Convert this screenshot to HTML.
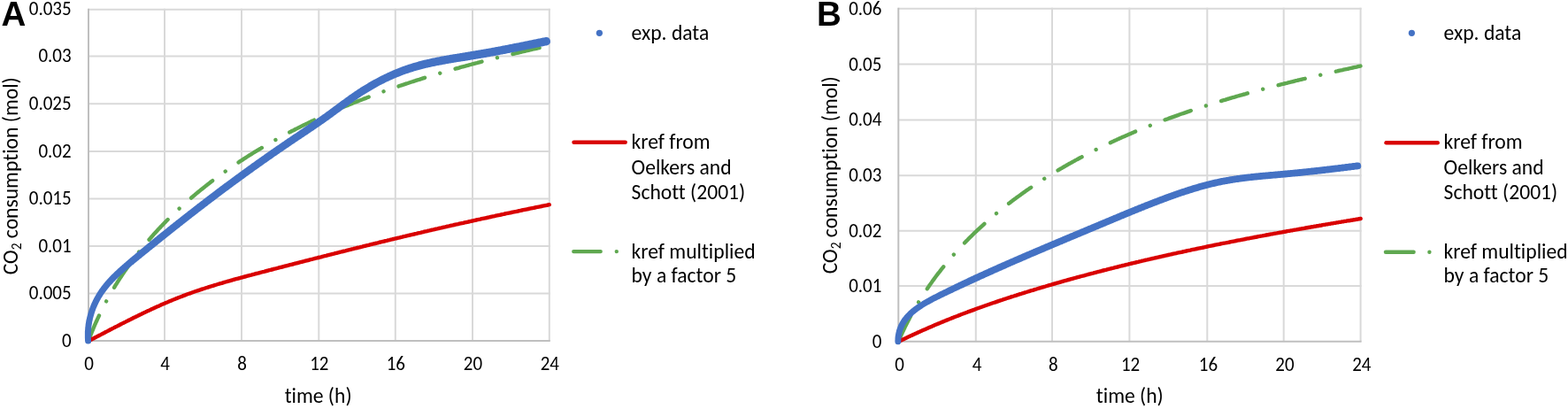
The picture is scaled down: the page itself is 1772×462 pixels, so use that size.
<!DOCTYPE html>
<html><head><meta charset="utf-8"><title>CO2 consumption charts</title>
<style>
html,body{margin:0;padding:0;background:#fff;}
body{width:1772px;height:462px;overflow:hidden;}
svg{display:block;}
text{font-variant-ligatures:none;font-feature-settings:'liga' 0,'clig' 0;}
</style></head>
<body>
<svg width="1772" height="462" viewBox="0 0 1772 462">
<rect width="1772" height="462" fill="#fff"></rect>
<g stroke="#d9d9d9" stroke-width="2" fill="none">
<line x1="186.0" y1="9.8" x2="186.0" y2="385.0"></line>
<line x1="273.0" y1="9.8" x2="273.0" y2="385.0"></line>
<line x1="360.3" y1="9.8" x2="360.3" y2="385.0"></line>
<line x1="446.8" y1="9.8" x2="446.8" y2="385.0"></line>
<line x1="534.0" y1="9.8" x2="534.0" y2="385.0"></line>
<line x1="620.8" y1="9.8" x2="620.8" y2="385.0"></line>
<line x1="100.0" y1="331.4" x2="621.8" y2="331.4"></line>
<line x1="100.0" y1="277.9" x2="621.8" y2="277.9"></line>
<line x1="100.0" y1="224.4" x2="621.8" y2="224.4"></line>
<line x1="100.0" y1="170.9" x2="621.8" y2="170.9"></line>
<line x1="100.0" y1="117.3" x2="621.8" y2="117.3"></line>
<line x1="100.0" y1="63.6" x2="621.8" y2="63.6"></line>
<line x1="100.0" y1="10.8" x2="621.8" y2="10.8"></line>
<line x1="1102.8" y1="8.8" x2="1102.8" y2="385.8"></line>
<line x1="1189.0" y1="8.8" x2="1189.0" y2="385.8"></line>
<line x1="1276.4" y1="8.8" x2="1276.4" y2="385.8"></line>
<line x1="1364.3" y1="8.8" x2="1364.3" y2="385.8"></line>
<line x1="1450.7" y1="8.8" x2="1450.7" y2="385.8"></line>
<line x1="1537.6" y1="8.8" x2="1537.6" y2="385.8"></line>
<line x1="1015.3" y1="322.9" x2="1538.6" y2="322.9"></line>
<line x1="1015.3" y1="260.8" x2="1538.6" y2="260.8"></line>
<line x1="1015.3" y1="198.2" x2="1538.6" y2="198.2"></line>
<line x1="1015.3" y1="135.4" x2="1538.6" y2="135.4"></line>
<line x1="1015.3" y1="72.5" x2="1538.6" y2="72.5"></line>
<line x1="1015.3" y1="9.8" x2="1538.6" y2="9.8"></line>
</g>
<g stroke="#bfbfbf" stroke-width="2" fill="none">
<line x1="100.0" y1="9.8" x2="100.0" y2="386.0"></line>
<line x1="99.0" y1="385.0" x2="621.8" y2="385.0"></line>
<line x1="1015.3" y1="8.8" x2="1015.3" y2="386.8"></line>
<line x1="1014.3" y1="385.8" x2="1538.6" y2="385.8"></line>
</g>
<g fill="none" stroke-linecap="round" stroke-linejoin="round">
<path d="M100.0 385.0 L100.5 383.6 L101.1 382.2 L101.6 380.7 L102.1 379.3 L102.7 377.9 L103.3 376.5 L103.8 375.1 L104.4 373.7 L105.0 372.3 L105.5 370.9 L106.1 369.5 L106.7 368.1 L107.3 366.7 L107.9 365.3 L108.5 363.9 L109.2 362.6 L109.8 361.2 L110.4 359.8 L111.1 358.5 L111.7 357.1 L112.3 355.7 L113.0 354.4 L113.7 353.0 L114.3 351.7 L115.0 350.3 L115.7 349.0 L116.3 347.6 L117.0 346.3 L117.7 344.9 L118.4 343.6 L119.1 342.3 L119.8 341.0 L120.5 339.6 L121.3 338.3 L122.0 337.0 L122.7 335.7 L123.5 334.4 L124.2 333.1 L124.9 331.8 L125.7 330.4 L126.4 329.2 L127.2 327.9 L128.0 326.6 L128.8 325.3 L129.5 324.0 L130.3 322.7 L131.1 321.4 L131.9 320.2 L132.7 318.9 L133.5 317.6 L134.3 316.4 L135.1 315.1 L135.9 313.8 L136.8 312.6 L137.6 311.3 L138.4 310.1 L139.3 308.8 L140.1 307.6 L140.9 306.3 L141.8 305.1 L142.7 303.9 L143.5 302.7 L144.4 301.4 L145.3 300.2 L146.1 299.0 L147.0 297.8 L147.9 296.6 L148.8 295.4 L149.7 294.1 L150.6 292.9 L151.5 291.7 L152.4 290.6 L153.3 289.4 L154.2 288.2 L155.1 287.0 L156.1 285.8 L157.0 284.6 L157.9 283.5 L158.9 282.3 L159.8 281.1 L160.8 280.0 L161.7 278.8 L162.7 277.6 L163.6 276.5 L164.6 275.3 L165.6 274.2 L166.5 273.0 L167.5 271.9 L168.5 270.8 L169.5 269.6 L170.5 268.5 L171.4 267.4 L172.4 266.3 L173.4 265.1 L174.4 264.0 L175.5 262.9 L176.5 261.8 L177.5 260.7 L178.5 259.6 L179.5 258.5 L180.6 257.4 L181.6 256.3 L182.6 255.2 L183.7 254.1 L184.7 253.1 L185.7 252.0 L186.8 250.9 L187.9 249.8 L188.9 248.8 L190.0 247.7 L191.0 246.7 L192.1 245.6 L193.2 244.6 L194.2 243.5 L195.3 242.5 L196.4 241.4 L197.5 240.4 L198.6 239.3 L199.7 238.3 L200.8 237.3 L201.9 236.3 L203.0 235.2 L204.1 234.2 L205.2 233.2 L206.3 232.2 L207.4 231.2 L208.5 230.2 L209.6 229.2 L210.8 228.2 L211.9 227.2 L213.0 226.2 L214.2 225.2 L215.3 224.3 L216.4 223.3 L217.6 222.3 L218.7 221.3 L219.9 220.4 L221.0 219.4 L222.2 218.4 L223.3 217.5 L224.5 216.5 L225.6 215.6 L226.8 214.6 L228.0 213.7 L229.2 212.8 L230.3 211.8 L231.5 210.9 L232.7 209.9 L233.9 209.0 L235.1 208.1 L236.2 207.2 L237.4 206.3 L238.6 205.3 L239.8 204.4 L241.0 203.5 L242.2 202.6 L243.4 201.7 L244.6 200.8 L245.8 199.9 L247.1 199.0 L248.3 198.2 L249.5 197.3 L250.7 196.4 L251.9 195.5 L253.2 194.6 L254.4 193.8 L255.6 192.9 L256.8 192.0 L258.1 191.2 L259.3 190.3 L260.6 189.5 L261.8 188.6 L263.0 187.8 L264.3 186.9 L265.5 186.1 L266.8 185.2 L268.0 184.4 L269.3 183.6 L270.5 182.7 L271.8 181.9 L273.1 181.1 L274.3 180.3 L275.6 179.4 L276.9 178.6 L278.1 177.8 L279.4 177.0 L280.7 176.2 L281.9 175.4 L283.2 174.6 L284.5 173.8 L285.8 173.0 L287.1 172.2 L288.3 171.4 L289.6 170.7 L290.9 169.9 L292.2 169.1 L293.5 168.3 L294.8 167.6 L296.1 166.8 L297.4 166.0 L298.7 165.3 L300.0 164.5 L301.3 163.7 L302.6 163.0 L303.9 162.2 L305.2 161.5 L306.5 160.7 L307.8 160.0 L309.1 159.3 L310.4 158.5 L311.8 157.8 L313.1 157.1 L314.4 156.3 L315.7 155.6 L317.0 154.9 L318.4 154.2 L319.7 153.5 L321.0 152.8 L322.3 152.0 L323.7 151.3 L325.0 150.6 L326.3 149.9 L327.6 149.2 L329.0 148.5 L330.3 147.8 L331.7 147.2 L333.0 146.5 L334.3 145.8 L335.7 145.1 L337.0 144.4 L338.4 143.8 L339.7 143.1 L341.0 142.4 L342.4 141.7 L343.7 141.1 L345.1 140.4 L346.4 139.8 L347.8 139.1 L349.1 138.4 L350.5 137.8 L351.9 137.1 L353.2 136.5 L354.6 135.9 L355.9 135.2 L357.3 134.6 L358.7 133.9 L360.0 133.3 L361.4 132.7 L362.8 132.1 L364.1 131.4 L365.5 130.8 L366.9 130.2 L368.2 129.6 L369.6 129.0 L371.0 128.3 L372.3 127.7 L373.7 127.1 L375.1 126.5 L376.5 125.9 L377.9 125.3 L379.2 124.7 L380.6 124.1 L382.0 123.5 L383.4 122.9 L384.8 122.4 L386.1 121.8 L387.5 121.2 L388.9 120.6 L390.3 120.0 L391.7 119.5 L393.1 118.9 L394.5 118.3 L395.9 117.7 L397.3 117.2 L398.7 116.6 L400.1 116.0 L401.5 115.5 L402.9 114.9 L404.3 114.4 L405.7 113.8 L407.1 113.3 L408.5 112.7 L409.9 112.2 L411.3 111.6 L412.7 111.1 L414.1 110.6 L415.5 110.0 L416.9 109.5 L418.3 109.0 L419.7 108.4 L421.1 107.9 L422.5 107.4 L423.9 106.8 L425.3 106.3 L426.8 105.8 L428.2 105.3 L429.6 104.8 L431.0 104.3 L432.4 103.7 L433.8 103.2 L435.3 102.7 L436.7 102.2 L438.1 101.7 L439.5 101.2 L440.9 100.7 L442.4 100.2 L443.8 99.7 L445.2 99.2 L446.6 98.7 L448.1 98.3 L449.5 97.8 L450.9 97.3 L452.3 96.8 L453.8 96.3 L455.2 95.8 L456.6 95.4 L458.1 94.9 L459.5 94.4 L460.9 94.0 L462.3 93.5 L463.8 93.0 L465.2 92.5 L466.6 92.1 L468.1 91.6 L469.5 91.2 L471.0 90.7 L472.4 90.2 L473.8 89.8 L475.3 89.3 L476.7 88.9 L478.1 88.4 L479.6 88.0 L481.0 87.5 L482.5 87.1 L483.9 86.7 L485.4 86.2 L486.8 85.8 L488.2 85.3 L489.7 84.9 L491.1 84.5 L492.6 84.0 L494.0 83.6 L495.5 83.2 L496.9 82.8 L498.4 82.3 L499.8 81.9 L501.2 81.5 L502.7 81.1 L504.1 80.7 L505.6 80.2 L507.0 79.8 L508.5 79.4 L509.9 79.0 L511.4 78.6 L512.8 78.2 L514.3 77.8 L515.7 77.4 L517.2 77.0 L518.7 76.6 L520.1 76.1 L521.6 75.7 L523.0 75.3 L524.5 75.0 L525.9 74.6 L527.4 74.2 L528.8 73.8 L530.3 73.4 L531.7 73.0 L533.2 72.6 L534.7 72.2 L536.1 71.8 L537.6 71.4 L539.0 71.1 L540.5 70.7 L541.9 70.3 L543.4 69.9 L544.9 69.5 L546.3 69.2 L547.8 68.8 L549.2 68.4 L550.7 68.0 L552.1 67.7 L553.6 67.3 L555.1 66.9 L556.5 66.6 L558.0 66.2 L559.4 65.8 L560.9 65.5 L562.4 65.1 L563.8 64.7 L565.3 64.4 L566.7 64.0 L568.2 63.7 L569.7 63.3 L571.1 63.0 L572.6 62.6 L574.0 62.3 L575.5 61.9 L577.0 61.5 L578.4 61.2 L579.9 60.9 L581.4 60.5 L582.8 60.2 L584.3 59.8 L585.7 59.5 L587.2 59.1 L588.7 58.8 L590.1 58.4 L591.6 58.1 L593.0 57.8 L594.5 57.4 L596.0 57.1 L597.4 56.8 L598.9 56.4 L600.4 56.1 L601.8 55.7 L603.3 55.4 L604.7 55.1 L606.2 54.8 L607.7 54.4 L609.1 54.1 L610.6 53.8 L612.0 53.4 L613.5 53.1 L615.0 52.8 L616.4 52.5 L617.9 52.1 L619.3 51.8 L620.8 51.5" stroke="#5fa850" stroke-width="4.4" stroke-dasharray="31 18 0.01 18"></path>
<path d="M100.5 385.0 L101.8 384.3 L103.2 383.6 L104.5 382.9 L105.8 382.2 L107.1 381.5 L108.5 380.8 L109.8 380.1 L111.1 379.5 L112.4 378.8 L113.8 378.1 L115.1 377.4 L116.4 376.7 L117.8 376.0 L119.1 375.3 L120.4 374.6 L121.8 373.9 L123.1 373.2 L124.4 372.5 L125.8 371.8 L127.1 371.1 L128.5 370.4 L129.8 369.7 L131.1 369.1 L132.5 368.4 L133.8 367.7 L135.2 367.0 L136.5 366.3 L137.8 365.6 L139.2 364.9 L140.5 364.3 L141.9 363.6 L143.2 362.9 L144.6 362.2 L145.9 361.5 L147.3 360.9 L148.6 360.2 L150.0 359.5 L151.3 358.8 L152.7 358.2 L154.0 357.5 L155.4 356.9 L156.7 356.2 L158.1 355.5 L159.5 354.9 L160.8 354.2 L162.2 353.6 L163.5 352.9 L164.9 352.3 L166.3 351.6 L167.6 351.0 L169.0 350.4 L170.4 349.7 L171.7 349.1 L173.1 348.5 L174.5 347.8 L175.8 347.2 L177.2 346.6 L178.6 346.0 L180.0 345.4 L181.4 344.7 L182.7 344.1 L184.1 343.5 L185.5 342.9 L186.9 342.3 L188.3 341.7 L189.6 341.2 L191.0 340.6 L192.4 340.0 L193.8 339.4 L195.2 338.8 L196.6 338.3 L198.0 337.7 L199.4 337.1 L200.8 336.6 L202.2 336.0 L203.6 335.5 L205.0 335.0 L206.4 334.4 L207.8 333.9 L209.2 333.4 L210.6 332.8 L212.0 332.3 L213.4 331.8 L214.9 331.3 L216.3 330.8 L217.7 330.3 L219.1 329.8 L220.5 329.3 L221.9 328.8 L223.4 328.3 L224.8 327.8 L226.2 327.4 L227.6 326.9 L229.1 326.4 L230.5 326.0 L231.9 325.5 L233.4 325.0 L234.8 324.6 L236.2 324.1 L237.7 323.7 L239.1 323.2 L240.5 322.8 L242.0 322.3 L243.4 321.9 L244.8 321.5 L246.3 321.0 L247.7 320.6 L249.2 320.2 L250.6 319.8 L252.1 319.3 L253.5 318.9 L254.9 318.5 L256.4 318.1 L257.8 317.7 L259.3 317.3 L260.7 316.9 L262.2 316.5 L263.6 316.0 L265.1 315.6 L266.5 315.2 L268.0 314.8 L269.4 314.5 L270.9 314.1 L272.3 313.7 L273.8 313.3 L275.2 312.9 L276.7 312.5 L278.2 312.1 L279.6 311.7 L281.1 311.3 L282.5 310.9 L284.0 310.6 L285.4 310.2 L286.9 309.8 L288.3 309.4 L289.8 309.0 L291.3 308.7 L292.7 308.3 L294.2 307.9 L295.6 307.5 L297.1 307.1 L298.5 306.8 L300.0 306.4 L301.5 306.0 L302.9 305.6 L304.4 305.2 L305.8 304.9 L307.3 304.5 L308.7 304.1 L310.2 303.7 L311.7 303.4 L313.1 303.0 L314.6 302.6 L316.0 302.2 L317.5 301.8 L318.9 301.5 L320.4 301.1 L321.9 300.7 L323.3 300.3 L324.8 300.0 L326.2 299.6 L327.7 299.2 L329.2 298.8 L330.6 298.5 L332.1 298.1 L333.5 297.7 L335.0 297.3 L336.4 297.0 L337.9 296.6 L339.4 296.2 L340.8 295.8 L342.3 295.5 L343.7 295.1 L345.2 294.7 L346.6 294.3 L348.1 294.0 L349.6 293.6 L351.0 293.2 L352.5 292.9 L353.9 292.5 L355.4 292.1 L356.9 291.7 L358.3 291.4 L359.8 291.0 L361.2 290.6 L362.7 290.3 L364.2 289.9 L365.6 289.5 L367.1 289.1 L368.5 288.8 L370.0 288.4 L371.4 288.0 L372.9 287.7 L374.4 287.3 L375.8 286.9 L377.3 286.6 L378.7 286.2 L380.2 285.8 L381.7 285.5 L383.1 285.1 L384.6 284.7 L386.0 284.4 L387.5 284.0 L389.0 283.6 L390.4 283.3 L391.9 282.9 L393.3 282.5 L394.8 282.2 L396.3 281.8 L397.7 281.4 L399.2 281.1 L400.6 280.7 L402.1 280.4 L403.6 280.0 L405.0 279.6 L406.5 279.3 L407.9 278.9 L409.4 278.6 L410.9 278.2 L412.3 277.8 L413.8 277.5 L415.2 277.1 L416.7 276.8 L418.2 276.4 L419.6 276.0 L421.1 275.7 L422.5 275.3 L424.0 275.0 L425.5 274.6 L426.9 274.3 L428.4 273.9 L429.9 273.5 L431.3 273.2 L432.8 272.8 L434.2 272.5 L435.7 272.1 L437.2 271.8 L438.6 271.4 L440.1 271.1 L441.6 270.7 L443.0 270.4 L444.5 270.0 L445.9 269.7 L447.4 269.3 L448.9 269.0 L450.3 268.6 L451.8 268.3 L453.3 267.9 L454.7 267.6 L456.2 267.2 L457.7 266.9 L459.1 266.5 L460.6 266.2 L462.0 265.8 L463.5 265.5 L465.0 265.2 L466.4 264.8 L467.9 264.5 L469.4 264.1 L470.8 263.8 L472.3 263.4 L473.8 263.1 L475.2 262.8 L476.7 262.4 L478.2 262.1 L479.6 261.7 L481.1 261.4 L482.6 261.1 L484.0 260.7 L485.5 260.4 L486.9 260.0 L488.4 259.7 L489.9 259.4 L491.3 259.0 L492.8 258.7 L494.3 258.4 L495.7 258.0 L497.2 257.7 L498.7 257.4 L500.1 257.0 L501.6 256.7 L503.1 256.4 L504.5 256.0 L506.0 255.7 L507.5 255.4 L508.9 255.0 L510.4 254.7 L511.9 254.4 L513.4 254.0 L514.8 253.7 L516.3 253.4 L517.8 253.1 L519.2 252.7 L520.7 252.4 L522.2 252.1 L523.6 251.8 L525.1 251.4 L526.6 251.1 L528.0 250.8 L529.5 250.5 L531.0 250.1 L532.4 249.8 L533.9 249.5 L535.4 249.2 L536.9 248.8 L538.3 248.5 L539.8 248.2 L541.3 247.9 L542.7 247.6 L544.2 247.2 L545.7 246.9 L547.1 246.6 L548.6 246.3 L550.1 246.0 L551.6 245.6 L553.0 245.3 L554.5 245.0 L556.0 244.7 L557.4 244.4 L558.9 244.1 L560.4 243.7 L561.9 243.4 L563.3 243.1 L564.8 242.8 L566.3 242.5 L567.7 242.2 L569.2 241.9 L570.7 241.5 L572.2 241.2 L573.6 240.9 L575.1 240.6 L576.6 240.3 L578.0 240.0 L579.5 239.7 L581.0 239.4 L582.5 239.1 L583.9 238.8 L585.4 238.5 L586.9 238.1 L588.4 237.8 L589.8 237.5 L591.3 237.2 L592.8 236.9 L594.3 236.6 L595.7 236.3 L597.2 236.0 L598.7 235.7 L600.1 235.4 L601.6 235.1 L603.1 234.8 L604.6 234.5 L606.0 234.2 L607.5 233.9 L609.0 233.6 L610.5 233.3 L611.9 233.0 L613.4 232.7 L614.9 232.4 L616.4 232.1 L617.8 231.8 L619.3 231.5 L620.8 231.2" stroke="#d90000" stroke-width="4.4"></path>
<path d="M103.1 384.8 L103.0 383.7 L103.0 382.7 L102.9 381.8 L102.9 380.8 L102.9 379.8 L102.9 378.8 L102.9 377.8 L102.9 376.8 L102.9 375.8 L102.9 374.9 L103.0 373.9 L103.1 372.9 L103.1 372.0 L103.2 371.0 L103.3 370.0 L103.4 369.1 L103.5 368.1 L103.7 367.1 L103.8 366.2 L104.0 365.2 L104.1 364.3 L104.3 363.3 L104.5 362.4 L104.7 361.4 L104.9 360.5 L105.1 359.6 L105.4 358.6 L105.6 357.7 L105.9 356.8 L106.1 355.9 L106.4 354.9 L106.7 354.0 L107.0 353.1 L107.3 352.2 L107.6 351.3 L107.9 350.4 L108.2 349.5 L108.6 348.6 L108.9 347.8 L109.3 346.9 L109.7 346.0 L110.1 345.1 L110.5 344.3 L110.9 343.4 L111.3 342.6 L111.7 341.7 L112.1 340.9 L112.6 340.1 L113.0 339.2 L113.5 338.4 L113.9 337.6 L114.4 336.8 L114.9 336.0 L115.4 335.2 L115.9 334.4 L116.4 333.6 L116.9 332.8 L117.5 332.0 L118.0 331.2 L118.6 330.5 L119.1 329.7 L119.7 328.9 L120.2 328.2 L120.8 327.4 L121.4 326.7 L122.0 326.0 L122.6 325.2 L123.2 324.5 L123.8 323.8 L124.4 323.0 L125.1 322.3 L125.7 321.6 L126.4 320.9 L127.0 320.2 L127.7 319.5 L128.3 318.8 L129.0 318.1 L129.7 317.4 L130.3 316.7 L131.0 316.0 L131.7 315.3 L132.4 314.7 L133.1 314.0 L133.8 313.3 L134.5 312.6 L135.2 312.0 L136.0 311.3 L136.7 310.6 L137.4 310.0 L138.1 309.3 L138.9 308.7 L139.6 308.0 L140.4 307.4 L141.1 306.7 L141.9 306.1 L142.6 305.4 L143.4 304.8 L144.1 304.1 L144.9 303.5 L145.7 302.8 L146.4 302.2 L147.2 301.6 L148.0 300.9 L148.7 300.3 L149.5 299.6 L150.3 299.0 L151.1 298.4 L151.8 297.7 L152.6 297.1 L153.4 296.4 L154.2 295.8 L155.0 295.2 L155.7 294.5 L156.5 293.9 L157.3 293.3 L158.1 292.6 L158.9 292.0 L159.7 291.4 L160.4 290.7 L161.2 290.1 L162.0 289.5 L162.8 288.8 L163.6 288.2 L164.3 287.6 L165.1 286.9 L165.9 286.3 L166.7 285.7 L167.5 285.0 L168.3 284.4 L169.0 283.8 L169.8 283.1 L170.6 282.5 L171.4 281.9 L172.2 281.2 L173.0 280.6 L173.7 280.0 L174.5 279.4 L175.3 278.7 L176.1 278.1 L176.9 277.5 L177.7 276.9 L178.5 276.2 L179.2 275.6 L180.0 275.0 L180.8 274.3 L181.6 273.7 L182.4 273.1 L183.2 272.5 L183.9 271.8 L184.7 271.2 L185.5 270.6 L186.3 270.0 L187.1 269.3 L187.9 268.7 L188.6 268.1 L189.4 267.5 L190.2 266.8 L191.0 266.2 L191.8 265.6 L192.6 264.9 L193.3 264.3 L194.1 263.7 L194.9 263.1 L195.7 262.5 L196.5 261.8 L197.3 261.2 L198.0 260.6 L198.8 260.0 L199.6 259.3 L200.4 258.7 L201.2 258.1 L202.0 257.5 L202.8 256.9 L203.5 256.2 L204.3 255.6 L205.1 255.0 L205.9 254.4 L206.7 253.8 L207.5 253.1 L208.3 252.5 L209.0 251.9 L209.8 251.3 L210.6 250.7 L211.4 250.1 L212.2 249.4 L213.0 248.8 L213.8 248.2 L214.6 247.6 L215.3 247.0 L216.1 246.4 L216.9 245.8 L217.7 245.1 L218.5 244.5 L219.3 243.9 L220.1 243.3 L220.9 242.7 L221.7 242.1 L222.4 241.5 L223.2 240.9 L224.0 240.3 L224.8 239.6 L225.6 239.0 L226.4 238.4 L227.2 237.8 L228.0 237.2 L228.8 236.6 L229.6 236.0 L230.4 235.4 L231.1 234.8 L231.9 234.2 L232.7 233.6 L233.5 233.0 L234.3 232.4 L235.1 231.7 L235.9 231.1 L236.7 230.5 L237.5 229.9 L238.3 229.3 L239.1 228.7 L239.9 228.1 L240.7 227.5 L241.5 226.9 L242.3 226.3 L243.1 225.7 L243.9 225.1 L244.7 224.5 L245.4 223.9 L246.2 223.3 L247.0 222.7 L247.8 222.1 L248.6 221.5 L249.4 220.9 L250.2 220.3 L251.0 219.7 L251.8 219.1 L252.6 218.5 L253.4 217.9 L254.2 217.3 L255.0 216.7 L255.8 216.1 L256.6 215.5 L257.4 215.0 L258.2 214.4 L259.0 213.8 L259.8 213.2 L260.6 212.6 L261.4 212.0 L262.2 211.4 L263.0 210.8 L263.8 210.2 L264.6 209.6 L265.4 209.0 L266.2 208.4 L267.0 207.8 L267.8 207.3 L268.6 206.7 L269.5 206.1 L270.3 205.5 L271.1 204.9 L271.9 204.3 L272.7 203.7 L273.5 203.1 L274.3 202.6 L275.1 202.0 L275.9 201.4 L276.7 200.8 L277.5 200.2 L278.3 199.6 L279.1 199.0 L279.9 198.5 L280.7 197.9 L281.5 197.3 L282.4 196.7 L283.2 196.1 L284.0 195.5 L284.8 195.0 L285.6 194.4 L286.4 193.8 L287.2 193.2 L288.0 192.6 L288.8 192.1 L289.6 191.5 L290.5 190.9 L291.3 190.3 L292.1 189.8 L292.9 189.2 L293.7 188.6 L294.5 188.0 L295.3 187.4 L296.1 186.9 L297.0 186.3 L297.8 185.7 L298.6 185.1 L299.4 184.6 L300.2 184.0 L301.0 183.4 L301.8 182.9 L302.7 182.3 L303.5 181.7 L304.3 181.1 L305.1 180.6 L305.9 180.0 L306.8 179.4 L307.6 178.9 L308.4 178.3 L309.2 177.7 L310.0 177.1 L310.8 176.6 L311.7 176.0 L312.5 175.4 L313.3 174.9 L314.1 174.3 L315.0 173.7 L315.8 173.2 L316.6 172.6 L317.4 172.0 L318.2 171.5 L319.1 170.9 L319.9 170.4 L320.7 169.8 L321.5 169.2 L322.4 168.7 L323.2 168.1 L324.0 167.5 L324.8 167.0 L325.7 166.4 L326.5 165.9 L327.3 165.3 L328.1 164.7 L329.0 164.2 L329.8 163.6 L330.6 163.1 L331.5 162.5 L332.3 161.9 L333.1 161.4 L333.9 160.8 L334.8 160.3 L335.6 159.7 L336.4 159.2 L337.3 158.6 L338.1 158.1 L338.9 157.5 L339.8 156.9 L340.6 156.4 L341.4 155.8 L342.3 155.3 L343.1 154.7 L343.9 154.2 L344.8 153.6 L345.6 153.0 L346.4 152.5 L347.3 151.9 L348.1 151.4 L348.9 150.8 L349.8 150.2 L350.6 149.7 L351.4 149.1 L352.3 148.6 L353.1 148.0 L353.9 147.4 L354.8 146.9 L355.6 146.3 L356.4 145.7 L357.3 145.2 L358.1 144.6 L358.9 144.0 L359.8 143.5 L360.6 142.9 L361.4 142.3 L362.3 141.8 L363.1 141.2 L363.9 140.6 L364.7 140.0 L365.6 139.5 L366.4 138.9 L367.2 138.3 L368.1 137.7 L368.9 137.1 L369.7 136.5 L370.5 136.0 L371.4 135.4 L372.2 134.8 L373.0 134.2 L373.8 133.6 L374.6 133.0 L375.5 132.4 L376.3 131.8 L377.1 131.2 L377.9 130.6 L378.7 130.0 L379.5 129.4 L380.3 128.8 L381.1 128.2 L382.0 127.6 L382.8 127.1 L383.6 126.5 L384.4 125.9 L385.2 125.3 L386.0 124.7 L386.8 124.1 L387.6 123.5 L388.4 122.9 L389.2 122.3 L390.0 121.7 L390.8 121.1 L391.6 120.5 L392.5 119.9 L393.3 119.3 L394.1 118.8 L394.9 118.2 L395.7 117.6 L396.5 117.0 L397.3 116.4 L398.1 115.9 L398.9 115.3 L399.7 114.7 L400.5 114.1 L401.3 113.6 L402.2 113.0 L403.0 112.4 L403.8 111.9 L404.6 111.3 L405.4 110.8 L406.2 110.2 L407.1 109.7 L407.9 109.1 L408.7 108.6 L409.5 108.1 L410.3 107.5 L411.2 107.0 L412.0 106.5 L412.8 105.9 L413.7 105.4 L414.5 104.9 L415.3 104.4 L416.2 103.9 L417.0 103.4 L417.9 102.9 L418.7 102.4 L419.5 101.9 L420.4 101.4 L421.2 100.9 L422.1 100.4 L422.9 99.9 L423.8 99.4 L424.7 98.9 L425.5 98.5 L426.4 98.0 L427.2 97.5 L428.1 97.1 L429.0 96.6 L429.8 96.1 L430.7 95.7 L431.6 95.3 L432.4 94.8 L433.3 94.4 L434.2 93.9 L435.1 93.5 L435.9 93.1 L436.8 92.6 L437.7 92.2 L438.6 91.8 L439.5 91.4 L440.3 91.0 L441.2 90.6 L442.1 90.2 L443.0 89.8 L443.9 89.4 L444.8 89.0 L445.7 88.6 L446.6 88.2 L447.5 87.8 L448.4 87.5 L449.3 87.1 L450.2 86.7 L451.1 86.4 L452.0 86.0 L452.9 85.7 L453.8 85.3 L454.7 85.0 L455.6 84.6 L456.5 84.3 L457.4 84.0 L458.4 83.6 L459.3 83.3 L460.2 83.0 L461.1 82.7 L462.0 82.4 L463.0 82.1 L463.9 81.8 L464.8 81.5 L465.7 81.2 L466.7 80.9 L467.6 80.6 L468.5 80.3 L469.5 80.0 L470.4 79.8 L471.3 79.5 L472.3 79.2 L473.2 79.0 L474.2 78.7 L475.1 78.5 L476.1 78.2 L477.0 78.0 L478.0 77.7 L478.9 77.5 L479.9 77.3 L480.8 77.0 L481.8 76.8 L482.7 76.6 L483.7 76.4 L484.6 76.1 L485.6 75.9 L486.6 75.7 L487.5 75.5 L488.5 75.3 L489.5 75.1 L490.4 74.9 L491.4 74.7 L492.4 74.5 L493.3 74.3 L494.3 74.1 L495.3 73.9 L496.3 73.7 L497.2 73.6 L498.2 73.4 L499.2 73.2 L500.2 73.0 L501.2 72.8 L502.1 72.7 L503.1 72.5 L504.1 72.3 L505.1 72.1 L506.1 72.0 L507.1 71.8 L508.0 71.6 L509.0 71.5 L510.0 71.3 L511.0 71.1 L512.0 71.0 L513.0 70.8 L514.0 70.6 L515.0 70.5 L515.9 70.3 L516.9 70.1 L517.9 70.0 L518.9 69.8 L519.9 69.7 L520.9 69.5 L521.9 69.3 L522.9 69.2 L523.9 69.0 L524.9 68.9 L525.9 68.7 L526.9 68.5 L527.9 68.4 L528.9 68.2 L529.9 68.1 L530.8 67.9 L531.8 67.7 L532.8 67.6 L533.8 67.4 L534.8 67.2 L535.8 67.1 L536.8 66.9 L537.8 66.7 L538.8 66.6 L539.8 66.4 L540.8 66.2 L541.8 66.1 L542.8 65.9 L543.8 65.7 L544.8 65.6 L545.7 65.4 L546.7 65.2 L547.7 65.0 L548.7 64.9 L549.7 64.7 L550.7 64.5 L551.7 64.3 L552.7 64.2 L553.7 64.0 L554.6 63.8 L555.6 63.6 L556.6 63.4 L557.6 63.3 L558.6 63.1 L559.6 62.9 L560.6 62.7 L561.6 62.5 L562.5 62.4 L563.5 62.2 L564.5 62.0 L565.5 61.8 L566.5 61.6 L567.5 61.4 L568.4 61.2 L569.4 61.0 L570.4 60.9 L571.4 60.7 L572.4 60.5 L573.4 60.3 L574.3 60.1 L575.3 59.9 L576.3 59.7 L577.3 59.5 L578.3 59.3 L579.2 59.1 L580.2 58.9 L581.2 58.8 L582.2 58.6 L583.2 58.4 L584.2 58.2 L585.1 58.0 L586.1 57.8 L587.1 57.6 L588.1 57.4 L589.1 57.2 L590.0 57.0 L591.0 56.8 L592.0 56.6 L593.0 56.4 L594.0 56.2 L594.9 56.0 L595.9 55.8 L596.9 55.6 L597.9 55.4 L598.9 55.2 L599.9 55.0 L600.8 54.8 L601.8 54.6 L602.8 54.4 L603.8 54.2 L604.8 54.0 L605.7 53.8 L606.7 53.6 L607.7 53.4 L608.7 53.2 L609.7 53.0 L610.7 52.8 L611.6 52.6 L612.6 52.4 L613.6 52.2 L614.6 52.0 L615.6 51.8 L616.6 51.6 L617.6 51.4 L618.5 51.2 A4.70 4.70 0 0 0 616.7 42.0 L615.7 42.2 L614.7 42.4 L613.7 42.6 L612.7 42.8 L611.7 43.0 L610.8 43.2 L609.8 43.4 L608.8 43.6 L607.8 43.8 L606.8 44.0 L605.8 44.2 L604.9 44.4 L603.9 44.6 L602.9 44.8 L601.9 45.0 L600.9 45.2 L599.9 45.4 L599.0 45.6 L598.0 45.8 L597.0 46.0 L596.0 46.2 L595.0 46.4 L594.1 46.6 L593.1 46.8 L592.1 47.0 L591.1 47.2 L590.1 47.4 L589.2 47.6 L588.2 47.8 L587.2 48.0 L586.2 48.2 L585.3 48.4 L584.3 48.6 L583.3 48.8 L582.3 49.0 L581.3 49.1 L580.4 49.3 L579.4 49.5 L578.4 49.7 L577.4 49.9 L576.5 50.1 L575.5 50.3 L574.5 50.5 L573.5 50.7 L572.5 50.9 L571.6 51.1 L570.6 51.3 L569.6 51.4 L568.6 51.6 L567.7 51.8 L566.7 52.0 L565.7 52.2 L564.7 52.4 L563.7 52.6 L562.8 52.7 L561.8 52.9 L560.8 53.1 L559.8 53.3 L558.8 53.5 L557.9 53.7 L556.9 53.8 L555.9 54.0 L554.9 54.2 L553.9 54.4 L553.0 54.6 L552.0 54.7 L551.0 54.9 L550.0 55.1 L549.0 55.3 L548.1 55.4 L547.1 55.6 L546.1 55.8 L545.1 56.0 L544.1 56.1 L543.2 56.3 L542.2 56.5 L541.2 56.6 L540.2 56.8 L539.2 57.0 L538.2 57.1 L537.2 57.3 L536.3 57.5 L535.3 57.6 L534.3 57.8 L533.3 58.0 L532.3 58.1 L531.3 58.3 L530.3 58.5 L529.3 58.6 L528.4 58.8 L527.4 58.9 L526.4 59.1 L525.4 59.3 L524.4 59.4 L523.4 59.6 L522.4 59.7 L521.4 59.9 L520.4 60.1 L519.4 60.2 L518.4 60.4 L517.4 60.5 L516.4 60.7 L515.4 60.9 L514.4 61.0 L513.4 61.2 L512.4 61.3 L511.4 61.5 L510.4 61.7 L509.4 61.8 L508.4 62.0 L507.4 62.2 L506.4 62.4 L505.4 62.5 L504.4 62.7 L503.4 62.9 L502.5 63.1 L501.5 63.2 L500.5 63.4 L499.5 63.6 L498.5 63.8 L497.5 64.0 L496.5 64.2 L495.5 64.4 L494.5 64.6 L493.5 64.8 L492.5 65.0 L491.5 65.2 L490.5 65.4 L489.5 65.6 L488.5 65.8 L487.5 66.0 L486.5 66.2 L485.5 66.4 L484.5 66.7 L483.6 66.9 L482.6 67.1 L481.6 67.4 L480.6 67.6 L479.6 67.8 L478.6 68.1 L477.6 68.3 L476.7 68.6 L475.7 68.8 L474.7 69.1 L473.7 69.3 L472.7 69.6 L471.7 69.9 L470.8 70.2 L469.8 70.4 L468.8 70.7 L467.8 71.0 L466.9 71.3 L465.9 71.6 L464.9 71.9 L464.0 72.2 L463.0 72.5 L462.0 72.8 L461.1 73.1 L460.1 73.5 L459.1 73.8 L458.2 74.1 L457.2 74.5 L456.3 74.8 L455.3 75.1 L454.3 75.5 L453.4 75.8 L452.4 76.2 L451.5 76.6 L450.6 76.9 L449.6 77.3 L448.7 77.7 L447.7 78.1 L446.8 78.4 L445.9 78.8 L444.9 79.2 L444.0 79.6 L443.1 80.0 L442.1 80.4 L441.2 80.8 L440.3 81.3 L439.4 81.7 L438.4 82.1 L437.5 82.5 L436.6 82.9 L435.7 83.4 L434.8 83.8 L433.9 84.3 L432.9 84.7 L432.0 85.2 L431.1 85.6 L430.2 86.1 L429.3 86.5 L428.4 87.0 L427.5 87.5 L426.6 87.9 L425.7 88.4 L424.8 88.9 L423.9 89.4 L423.1 89.8 L422.2 90.3 L421.3 90.8 L420.4 91.3 L419.5 91.8 L418.6 92.3 L417.8 92.8 L416.9 93.3 L416.0 93.8 L415.1 94.4 L414.3 94.9 L413.4 95.4 L412.5 95.9 L411.7 96.5 L410.8 97.0 L409.9 97.5 L409.1 98.1 L408.2 98.6 L407.3 99.1 L406.5 99.7 L405.6 100.2 L404.8 100.8 L403.9 101.3 L403.1 101.9 L402.2 102.5 L401.4 103.0 L400.6 103.6 L399.7 104.2 L398.9 104.7 L398.1 105.3 L397.2 105.9 L396.4 106.5 L395.6 107.1 L394.7 107.6 L393.9 108.2 L393.1 108.8 L392.3 109.4 L391.4 110.0 L390.6 110.6 L389.8 111.2 L389.0 111.8 L388.2 112.4 L387.4 113.0 L386.5 113.5 L385.7 114.1 L384.9 114.7 L384.1 115.3 L383.3 115.9 L382.5 116.5 L381.7 117.1 L380.9 117.7 L380.1 118.3 L379.3 118.9 L378.5 119.5 L377.6 120.1 L376.8 120.7 L376.0 121.3 L375.2 121.9 L374.4 122.5 L373.6 123.1 L372.8 123.7 L372.0 124.3 L371.2 124.9 L370.4 125.5 L369.6 126.0 L368.8 126.6 L368.0 127.2 L367.2 127.8 L366.4 128.4 L365.5 129.0 L364.7 129.5 L363.9 130.1 L363.1 130.7 L362.3 131.3 L361.5 131.8 L360.7 132.4 L359.8 133.0 L359.0 133.6 L358.2 134.1 L357.4 134.7 L356.6 135.3 L355.7 135.8 L354.9 136.4 L354.1 137.0 L353.3 137.5 L352.4 138.1 L351.6 138.7 L350.8 139.2 L350.0 139.8 L349.1 140.3 L348.3 140.9 L347.5 141.5 L346.7 142.0 L345.8 142.6 L345.0 143.1 L344.2 143.7 L343.3 144.3 L342.5 144.8 L341.7 145.4 L340.8 145.9 L340.0 146.5 L339.2 147.1 L338.4 147.6 L337.5 148.2 L336.7 148.7 L335.9 149.3 L335.0 149.9 L334.2 150.4 L333.4 151.0 L332.5 151.5 L331.7 152.1 L330.9 152.6 L330.0 153.2 L329.2 153.8 L328.4 154.3 L327.5 154.9 L326.7 155.4 L325.9 156.0 L325.0 156.6 L324.2 157.1 L323.4 157.7 L322.5 158.3 L321.7 158.8 L320.9 159.4 L320.1 160.0 L319.2 160.5 L318.4 161.1 L317.6 161.7 L316.7 162.2 L315.9 162.8 L315.1 163.4 L314.3 163.9 L313.4 164.5 L312.6 165.1 L311.8 165.6 L311.0 166.2 L310.1 166.8 L309.3 167.3 L308.5 167.9 L307.7 168.5 L306.8 169.0 L306.0 169.6 L305.2 170.2 L304.4 170.8 L303.6 171.3 L302.7 171.9 L301.9 172.5 L301.1 173.1 L300.3 173.6 L299.4 174.2 L298.6 174.8 L297.8 175.4 L297.0 175.9 L296.2 176.5 L295.4 177.1 L294.5 177.7 L293.7 178.2 L292.9 178.8 L292.1 179.4 L291.3 180.0 L290.5 180.6 L289.6 181.1 L288.8 181.7 L288.0 182.3 L287.2 182.9 L286.4 183.5 L285.6 184.0 L284.7 184.6 L283.9 185.2 L283.1 185.8 L282.3 186.4 L281.5 187.0 L280.7 187.5 L279.9 188.1 L279.1 188.7 L278.2 189.3 L277.4 189.9 L276.6 190.5 L275.8 191.1 L275.0 191.7 L274.2 192.2 L273.4 192.8 L272.6 193.4 L271.8 194.0 L271.0 194.6 L270.1 195.2 L269.3 195.8 L268.5 196.4 L267.7 197.0 L266.9 197.5 L266.1 198.1 L265.3 198.7 L264.5 199.3 L263.7 199.9 L262.9 200.5 L262.1 201.1 L261.3 201.7 L260.5 202.3 L259.7 202.9 L258.9 203.5 L258.1 204.1 L257.2 204.7 L256.4 205.3 L255.6 205.9 L254.8 206.5 L254.0 207.1 L253.2 207.6 L252.4 208.2 L251.6 208.8 L250.8 209.4 L250.0 210.0 L249.2 210.6 L248.4 211.2 L247.6 211.8 L246.8 212.4 L246.0 213.0 L245.2 213.6 L244.4 214.2 L243.6 214.8 L242.8 215.5 L242.0 216.1 L241.2 216.7 L240.4 217.3 L239.6 217.9 L238.8 218.5 L238.0 219.1 L237.2 219.7 L236.4 220.3 L235.6 220.9 L234.8 221.5 L234.0 222.1 L233.3 222.7 L232.5 223.3 L231.7 223.9 L230.9 224.5 L230.1 225.1 L229.3 225.8 L228.5 226.4 L227.7 227.0 L226.9 227.6 L226.1 228.2 L225.3 228.8 L224.5 229.4 L223.7 230.0 L222.9 230.6 L222.1 231.2 L221.3 231.9 L220.5 232.5 L219.7 233.1 L219.0 233.7 L218.2 234.3 L217.4 234.9 L216.6 235.5 L215.8 236.2 L215.0 236.8 L214.2 237.4 L213.4 238.0 L212.6 238.6 L211.8 239.2 L211.0 239.9 L210.3 240.5 L209.5 241.1 L208.7 241.7 L207.9 242.3 L207.1 242.9 L206.3 243.6 L205.5 244.2 L204.7 244.8 L203.9 245.4 L203.2 246.0 L202.4 246.7 L201.6 247.3 L200.8 247.9 L200.0 248.5 L199.2 249.1 L198.4 249.8 L197.6 250.4 L196.9 251.0 L196.1 251.6 L195.3 252.3 L194.5 252.9 L193.7 253.5 L192.9 254.1 L192.1 254.8 L191.3 255.4 L190.6 256.0 L189.8 256.6 L189.0 257.3 L188.2 257.9 L187.4 258.5 L186.6 259.2 L185.9 259.8 L185.1 260.4 L184.3 261.0 L183.5 261.7 L182.7 262.3 L181.9 262.9 L181.1 263.6 L180.4 264.2 L179.6 264.8 L178.8 265.5 L178.0 266.1 L177.2 266.7 L176.5 267.4 L175.7 268.0 L174.9 268.6 L174.1 269.3 L173.3 269.9 L172.6 270.5 L171.8 271.2 L171.0 271.8 L170.2 272.5 L169.4 273.1 L168.7 273.7 L167.9 274.4 L167.1 275.0 L166.3 275.7 L165.6 276.3 L164.8 276.9 L164.0 277.6 L163.2 278.2 L162.4 278.9 L161.7 279.5 L160.9 280.2 L160.1 280.8 L159.3 281.4 L158.6 282.1 L157.8 282.7 L157.0 283.4 L156.2 284.0 L155.5 284.7 L154.7 285.3 L153.9 286.0 L153.1 286.6 L152.4 287.2 L151.6 287.9 L150.8 288.5 L150.0 289.2 L149.2 289.8 L148.5 290.5 L147.7 291.1 L146.9 291.8 L146.1 292.4 L145.4 293.1 L144.6 293.7 L143.8 294.4 L143.0 295.1 L142.3 295.7 L141.5 296.4 L140.7 297.0 L140.0 297.7 L139.2 298.4 L138.4 299.0 L137.7 299.7 L136.9 300.4 L136.1 301.1 L135.4 301.7 L134.6 302.4 L133.9 303.1 L133.1 303.8 L132.4 304.5 L131.6 305.2 L130.9 305.9 L130.1 306.6 L129.4 307.3 L128.7 308.0 L128.0 308.7 L127.2 309.4 L126.5 310.1 L125.8 310.8 L125.1 311.6 L124.4 312.3 L123.7 313.0 L123.0 313.8 L122.3 314.5 L121.6 315.3 L120.9 316.0 L120.3 316.8 L119.6 317.5 L118.9 318.3 L118.3 319.1 L117.6 319.9 L117.0 320.6 L116.4 321.4 L115.7 322.2 L115.1 323.0 L114.5 323.8 L113.9 324.7 L113.3 325.5 L112.7 326.3 L112.1 327.1 L111.6 328.0 L111.0 328.8 L110.4 329.7 L109.9 330.5 L109.3 331.4 L108.8 332.3 L108.3 333.2 L107.8 334.0 L107.3 334.9 L106.8 335.8 L106.3 336.7 L105.8 337.7 L105.4 338.6 L104.9 339.5 L104.5 340.4 L104.1 341.3 L103.6 342.3 L103.2 343.2 L102.8 344.2 L102.4 345.1 L102.1 346.1 L101.7 347.0 L101.3 348.0 L101.0 349.0 L100.6 350.0 L100.3 350.9 L100.0 351.9 L99.7 352.9 L99.4 353.9 L99.1 354.9 L98.8 355.9 L98.6 356.9 L98.3 357.9 L98.1 358.9 L97.9 360.0 L97.6 361.0 L97.4 362.0 L97.2 363.0 L97.1 364.1 L96.9 365.1 L96.7 366.1 L96.6 367.2 L96.5 368.2 L96.4 369.3 L96.2 370.3 L96.2 371.4 L96.1 372.4 L96.0 373.5 L95.9 374.5 L95.9 375.6 L95.9 376.7 L95.9 377.7 L95.9 378.8 L95.9 379.9 L95.9 381.0 L95.9 382.0 L96.0 383.1 L96.0 384.2 L96.1 385.2 A3.50 3.50 0 0 0 103.1 384.8 Z" fill="#4472c4" stroke="none"></path>
<path d="M1015.3 385.8 L1015.9 384.4 L1016.5 383.0 L1017.1 381.6 L1017.8 380.1 L1018.4 378.7 L1019.0 377.3 L1019.7 375.9 L1020.3 374.6 L1021.0 373.2 L1021.6 371.8 L1022.3 370.4 L1022.9 369.0 L1023.6 367.7 L1024.3 366.3 L1025.0 364.9 L1025.7 363.6 L1026.4 362.2 L1027.1 360.9 L1027.8 359.5 L1028.5 358.2 L1029.2 356.8 L1029.9 355.5 L1030.7 354.2 L1031.4 352.9 L1032.1 351.5 L1032.9 350.2 L1033.6 348.9 L1034.4 347.6 L1035.1 346.3 L1035.9 345.0 L1036.7 343.7 L1037.5 342.4 L1038.2 341.1 L1039.0 339.8 L1039.8 338.5 L1040.6 337.3 L1041.4 336.0 L1042.2 334.7 L1043.0 333.5 L1043.8 332.2 L1044.7 330.9 L1045.5 329.7 L1046.3 328.4 L1047.1 327.2 L1048.0 325.9 L1048.8 324.7 L1049.7 323.5 L1050.5 322.2 L1051.4 321.0 L1052.3 319.8 L1053.1 318.6 L1054.0 317.3 L1054.9 316.1 L1055.8 314.9 L1056.6 313.7 L1057.5 312.5 L1058.4 311.3 L1059.3 310.1 L1060.2 308.9 L1061.1 307.8 L1062.1 306.6 L1063.0 305.4 L1063.9 304.2 L1064.8 303.1 L1065.8 301.9 L1066.7 300.7 L1067.6 299.6 L1068.6 298.4 L1069.5 297.3 L1070.5 296.1 L1071.4 295.0 L1072.4 293.8 L1073.4 292.7 L1074.3 291.6 L1075.3 290.5 L1076.3 289.3 L1077.3 288.2 L1078.3 287.1 L1079.3 286.0 L1080.3 284.9 L1081.3 283.8 L1082.3 282.7 L1083.3 281.6 L1084.3 280.5 L1085.3 279.4 L1086.3 278.3 L1087.3 277.2 L1088.4 276.1 L1089.4 275.0 L1090.4 274.0 L1091.5 272.9 L1092.5 271.8 L1093.6 270.8 L1094.6 269.7 L1095.7 268.7 L1096.7 267.6 L1097.8 266.6 L1098.9 265.5 L1099.9 264.5 L1101.0 263.4 L1102.1 262.4 L1103.2 261.4 L1104.2 260.4 L1105.3 259.3 L1106.4 258.3 L1107.5 257.3 L1108.6 256.3 L1109.7 255.3 L1110.8 254.3 L1111.9 253.3 L1113.0 252.3 L1114.2 251.3 L1115.3 250.3 L1116.4 249.3 L1117.5 248.3 L1118.7 247.3 L1119.8 246.4 L1120.9 245.4 L1122.1 244.4 L1123.2 243.5 L1124.4 242.5 L1125.5 241.5 L1126.7 240.6 L1127.8 239.6 L1129.0 238.7 L1130.1 237.7 L1131.3 236.8 L1132.5 235.8 L1133.6 234.9 L1134.8 234.0 L1136.0 233.1 L1137.2 232.1 L1138.4 231.2 L1139.5 230.3 L1140.7 229.4 L1141.9 228.5 L1143.1 227.6 L1144.3 226.6 L1145.5 225.7 L1146.7 224.8 L1147.9 224.0 L1149.1 223.1 L1150.3 222.2 L1151.6 221.3 L1152.8 220.4 L1154.0 219.5 L1155.2 218.7 L1156.4 217.8 L1157.7 216.9 L1158.9 216.0 L1160.1 215.2 L1161.4 214.3 L1162.6 213.5 L1163.8 212.6 L1165.1 211.8 L1166.3 210.9 L1167.6 210.1 L1168.8 209.2 L1170.1 208.4 L1171.3 207.6 L1172.6 206.7 L1173.9 205.9 L1175.1 205.1 L1176.4 204.3 L1177.7 203.5 L1178.9 202.6 L1180.2 201.8 L1181.5 201.0 L1182.8 200.2 L1184.0 199.4 L1185.3 198.6 L1186.6 197.8 L1187.9 197.0 L1189.2 196.3 L1190.5 195.5 L1191.8 194.7 L1193.0 193.9 L1194.3 193.1 L1195.6 192.4 L1196.9 191.6 L1198.2 190.8 L1199.5 190.1 L1200.8 189.3 L1202.2 188.5 L1203.5 187.8 L1204.8 187.0 L1206.1 186.3 L1207.4 185.5 L1208.7 184.8 L1210.0 184.1 L1211.4 183.3 L1212.7 182.6 L1214.0 181.9 L1215.3 181.1 L1216.7 180.4 L1218.0 179.7 L1219.3 179.0 L1220.6 178.3 L1222.0 177.6 L1223.3 176.9 L1224.7 176.1 L1226.0 175.4 L1227.3 174.7 L1228.7 174.0 L1230.0 173.4 L1231.4 172.7 L1232.7 172.0 L1234.1 171.3 L1235.4 170.6 L1236.8 169.9 L1238.1 169.3 L1239.5 168.6 L1240.8 167.9 L1242.2 167.2 L1243.5 166.6 L1244.9 165.9 L1246.2 165.3 L1247.6 164.6 L1249.0 164.0 L1250.3 163.3 L1251.7 162.7 L1253.0 162.0 L1254.4 161.4 L1255.8 160.7 L1257.2 160.1 L1258.5 159.5 L1259.9 158.8 L1261.3 158.2 L1262.6 157.6 L1264.0 157.0 L1265.4 156.3 L1266.8 155.7 L1268.1 155.1 L1269.5 154.5 L1270.9 153.9 L1272.3 153.3 L1273.7 152.7 L1275.1 152.1 L1276.4 151.5 L1277.8 150.9 L1279.2 150.3 L1280.6 149.7 L1282.0 149.1 L1283.4 148.5 L1284.8 147.9 L1286.2 147.4 L1287.6 146.8 L1288.9 146.2 L1290.3 145.6 L1291.7 145.1 L1293.1 144.5 L1294.5 143.9 L1295.9 143.4 L1297.3 142.8 L1298.7 142.2 L1300.1 141.7 L1301.5 141.1 L1303.0 140.6 L1304.4 140.0 L1305.8 139.5 L1307.2 138.9 L1308.6 138.4 L1310.0 137.9 L1311.4 137.3 L1312.8 136.8 L1314.2 136.3 L1315.6 135.7 L1317.0 135.2 L1318.5 134.7 L1319.9 134.2 L1321.3 133.6 L1322.7 133.1 L1324.1 132.6 L1325.5 132.1 L1327.0 131.6 L1328.4 131.1 L1329.8 130.6 L1331.2 130.1 L1332.7 129.5 L1334.1 129.0 L1335.5 128.5 L1336.9 128.1 L1338.4 127.6 L1339.8 127.1 L1341.2 126.6 L1342.6 126.1 L1344.1 125.6 L1345.5 125.1 L1346.9 124.6 L1348.4 124.2 L1349.8 123.7 L1351.2 123.2 L1352.6 122.7 L1354.1 122.2 L1355.5 121.8 L1357.0 121.3 L1358.4 120.8 L1359.8 120.4 L1361.3 119.9 L1362.7 119.5 L1364.1 119.0 L1365.6 118.5 L1367.0 118.1 L1368.5 117.6 L1369.9 117.2 L1371.3 116.7 L1372.8 116.3 L1374.2 115.8 L1375.7 115.4 L1377.1 114.9 L1378.6 114.5 L1380.0 114.1 L1381.4 113.6 L1382.9 113.2 L1384.3 112.8 L1385.8 112.3 L1387.2 111.9 L1388.7 111.5 L1390.1 111.0 L1391.6 110.6 L1393.0 110.2 L1394.5 109.8 L1395.9 109.4 L1397.4 108.9 L1398.8 108.5 L1400.3 108.1 L1401.7 107.7 L1403.2 107.3 L1404.6 106.9 L1406.1 106.5 L1407.5 106.1 L1409.0 105.6 L1410.4 105.2 L1411.9 104.8 L1413.4 104.4 L1414.8 104.0 L1416.3 103.6 L1417.7 103.2 L1419.2 102.8 L1420.6 102.5 L1422.1 102.1 L1423.5 101.7 L1425.0 101.3 L1426.5 100.9 L1427.9 100.5 L1429.4 100.1 L1430.8 99.7 L1432.3 99.4 L1433.8 99.0 L1435.2 98.6 L1436.7 98.2 L1438.1 97.8 L1439.6 97.5 L1441.1 97.1 L1442.5 96.7 L1444.0 96.3 L1445.4 96.0 L1446.9 95.6 L1448.4 95.2 L1449.8 94.9 L1451.3 94.5 L1452.7 94.1 L1454.2 93.8 L1455.7 93.4 L1457.1 93.0 L1458.6 92.7 L1460.1 92.3 L1461.5 92.0 L1463.0 91.6 L1464.4 91.2 L1465.9 90.9 L1467.4 90.5 L1468.8 90.2 L1470.3 89.8 L1471.8 89.5 L1473.2 89.1 L1474.7 88.8 L1476.1 88.4 L1477.6 88.1 L1479.1 87.7 L1480.5 87.4 L1482.0 87.1 L1483.5 86.7 L1484.9 86.4 L1486.4 86.0 L1487.8 85.7 L1489.3 85.4 L1490.8 85.0 L1492.2 84.7 L1493.7 84.3 L1495.2 84.0 L1496.6 83.7 L1498.1 83.3 L1499.5 83.0 L1501.0 82.7 L1502.5 82.3 L1503.9 82.0 L1505.4 81.7 L1506.9 81.4 L1508.3 81.0 L1509.8 80.7 L1511.2 80.4 L1512.7 80.0 L1514.2 79.7 L1515.6 79.4 L1517.1 79.1 L1518.5 78.7 L1520.0 78.4 L1521.5 78.1 L1522.9 77.8 L1524.4 77.5 L1525.8 77.1 L1527.3 76.8 L1528.8 76.5 L1530.2 76.2 L1531.7 75.9 L1533.1 75.6 L1534.6 75.2 L1536.0 74.9 L1537.5 74.6" stroke="#5fa850" stroke-width="4.4" stroke-dasharray="31 18 0.01 18" stroke-dashoffset="-1"></path>
<path d="M1015.6 385.8 L1017.0 385.1 L1018.3 384.5 L1019.7 383.8 L1021.0 383.2 L1022.4 382.5 L1023.8 381.9 L1025.1 381.2 L1026.5 380.6 L1027.8 379.9 L1029.2 379.3 L1030.6 378.7 L1031.9 378.0 L1033.3 377.4 L1034.7 376.8 L1036.1 376.2 L1037.4 375.5 L1038.8 374.9 L1040.2 374.3 L1041.5 373.7 L1042.9 373.1 L1044.3 372.5 L1045.7 371.9 L1047.1 371.3 L1048.4 370.7 L1049.8 370.1 L1051.2 369.5 L1052.6 368.9 L1054.0 368.3 L1055.3 367.7 L1056.7 367.1 L1058.1 366.5 L1059.5 365.9 L1060.9 365.4 L1062.3 364.8 L1063.7 364.2 L1065.1 363.6 L1066.4 363.1 L1067.8 362.5 L1069.2 361.9 L1070.6 361.4 L1072.0 360.8 L1073.4 360.3 L1074.8 359.7 L1076.2 359.1 L1077.6 358.6 L1079.0 358.0 L1080.4 357.5 L1081.8 357.0 L1083.2 356.4 L1084.6 355.9 L1086.0 355.3 L1087.4 354.8 L1088.8 354.3 L1090.2 353.7 L1091.6 353.2 L1093.0 352.7 L1094.4 352.1 L1095.9 351.6 L1097.3 351.1 L1098.7 350.6 L1100.1 350.1 L1101.5 349.6 L1102.9 349.0 L1104.3 348.5 L1105.7 348.0 L1107.2 347.5 L1108.6 347.0 L1110.0 346.5 L1111.4 346.0 L1112.8 345.5 L1114.2 345.0 L1115.7 344.5 L1117.1 344.0 L1118.5 343.5 L1119.9 343.0 L1121.3 342.5 L1122.8 342.0 L1124.2 341.6 L1125.6 341.1 L1127.0 340.6 L1128.4 340.1 L1129.9 339.6 L1131.3 339.2 L1132.7 338.7 L1134.2 338.2 L1135.6 337.7 L1137.0 337.3 L1138.4 336.8 L1139.9 336.3 L1141.3 335.9 L1142.7 335.4 L1144.2 334.9 L1145.6 334.5 L1147.0 334.0 L1148.5 333.6 L1149.9 333.1 L1151.3 332.7 L1152.8 332.2 L1154.2 331.8 L1155.6 331.3 L1157.1 330.9 L1158.5 330.4 L1159.9 330.0 L1161.4 329.5 L1162.8 329.1 L1164.2 328.6 L1165.7 328.2 L1167.1 327.8 L1168.6 327.3 L1170.0 326.9 L1171.4 326.5 L1172.9 326.0 L1174.3 325.6 L1175.8 325.2 L1177.2 324.7 L1178.7 324.3 L1180.1 323.9 L1181.5 323.5 L1183.0 323.0 L1184.4 322.6 L1185.9 322.2 L1187.3 321.8 L1188.8 321.4 L1190.2 320.9 L1191.7 320.5 L1193.1 320.1 L1194.5 319.7 L1196.0 319.3 L1197.4 318.9 L1198.9 318.5 L1200.3 318.0 L1201.8 317.6 L1203.2 317.2 L1204.7 316.8 L1206.1 316.4 L1207.6 316.0 L1209.0 315.6 L1210.5 315.2 L1211.9 314.8 L1213.4 314.4 L1214.8 314.0 L1216.3 313.6 L1217.7 313.2 L1219.2 312.8 L1220.7 312.4 L1222.1 312.0 L1223.6 311.6 L1225.0 311.3 L1226.5 310.9 L1227.9 310.5 L1229.4 310.1 L1230.8 309.7 L1232.3 309.3 L1233.8 308.9 L1235.2 308.6 L1236.7 308.2 L1238.1 307.8 L1239.6 307.4 L1241.0 307.0 L1242.5 306.7 L1244.0 306.3 L1245.4 305.9 L1246.9 305.5 L1248.3 305.1 L1249.8 304.8 L1251.3 304.4 L1252.7 304.0 L1254.2 303.7 L1255.6 303.3 L1257.1 302.9 L1258.6 302.6 L1260.0 302.2 L1261.5 301.8 L1262.9 301.5 L1264.4 301.1 L1265.9 300.7 L1267.3 300.4 L1268.8 300.0 L1270.3 299.7 L1271.7 299.3 L1273.2 298.9 L1274.7 298.6 L1276.1 298.2 L1277.6 297.9 L1279.1 297.5 L1280.5 297.2 L1282.0 296.8 L1283.4 296.5 L1284.9 296.1 L1286.4 295.8 L1287.8 295.4 L1289.3 295.1 L1290.8 294.7 L1292.3 294.4 L1293.7 294.0 L1295.2 293.7 L1296.7 293.4 L1298.1 293.0 L1299.6 292.7 L1301.1 292.3 L1302.5 292.0 L1304.0 291.7 L1305.5 291.3 L1306.9 291.0 L1308.4 290.7 L1309.9 290.3 L1311.4 290.0 L1312.8 289.7 L1314.3 289.3 L1315.8 289.0 L1317.2 288.7 L1318.7 288.3 L1320.2 288.0 L1321.7 287.7 L1323.1 287.4 L1324.6 287.0 L1326.1 286.7 L1327.5 286.4 L1329.0 286.1 L1330.5 285.7 L1332.0 285.4 L1333.4 285.1 L1334.9 284.8 L1336.4 284.5 L1337.9 284.1 L1339.3 283.8 L1340.8 283.5 L1342.3 283.2 L1343.8 282.9 L1345.2 282.6 L1346.7 282.2 L1348.2 281.9 L1349.7 281.6 L1351.1 281.3 L1352.6 281.0 L1354.1 280.7 L1355.6 280.4 L1357.0 280.1 L1358.5 279.8 L1360.0 279.5 L1361.5 279.2 L1362.9 278.8 L1364.4 278.5 L1365.9 278.2 L1367.4 277.9 L1368.9 277.6 L1370.3 277.3 L1371.8 277.0 L1373.3 276.7 L1374.8 276.4 L1376.2 276.1 L1377.7 275.8 L1379.2 275.5 L1380.7 275.2 L1382.2 274.9 L1383.6 274.6 L1385.1 274.4 L1386.6 274.1 L1388.1 273.8 L1389.6 273.5 L1391.0 273.2 L1392.5 272.9 L1394.0 272.6 L1395.5 272.3 L1397.0 272.0 L1398.4 271.7 L1399.9 271.4 L1401.4 271.2 L1402.9 270.9 L1404.4 270.6 L1405.8 270.3 L1407.3 270.0 L1408.8 269.7 L1410.3 269.4 L1411.8 269.2 L1413.2 268.9 L1414.7 268.6 L1416.2 268.3 L1417.7 268.0 L1419.2 267.8 L1420.6 267.5 L1422.1 267.2 L1423.6 266.9 L1425.1 266.6 L1426.6 266.4 L1428.0 266.1 L1429.5 265.8 L1431.0 265.5 L1432.5 265.3 L1434.0 265.0 L1435.5 264.7 L1436.9 264.4 L1438.4 264.2 L1439.9 263.9 L1441.4 263.6 L1442.9 263.4 L1444.3 263.1 L1445.8 262.8 L1447.3 262.6 L1448.8 262.3 L1450.3 262.0 L1451.8 261.7 L1453.2 261.5 L1454.7 261.2 L1456.2 260.9 L1457.7 260.7 L1459.2 260.4 L1460.7 260.2 L1462.1 259.9 L1463.6 259.6 L1465.1 259.4 L1466.6 259.1 L1468.1 258.8 L1469.5 258.6 L1471.0 258.3 L1472.5 258.1 L1474.0 257.8 L1475.5 257.5 L1477.0 257.3 L1478.4 257.0 L1479.9 256.8 L1481.4 256.5 L1482.9 256.2 L1484.4 256.0 L1485.8 255.7 L1487.3 255.5 L1488.8 255.2 L1490.3 255.0 L1491.8 254.7 L1493.3 254.5 L1494.7 254.2 L1496.2 253.9 L1497.7 253.7 L1499.2 253.4 L1500.7 253.2 L1502.2 252.9 L1503.6 252.7 L1505.1 252.4 L1506.6 252.2 L1508.1 251.9 L1509.6 251.7 L1511.0 251.4 L1512.5 251.2 L1514.0 250.9 L1515.5 250.7 L1517.0 250.4 L1518.4 250.2 L1519.9 249.9 L1521.4 249.7 L1522.9 249.4 L1524.4 249.2 L1525.9 249.0 L1527.3 248.7 L1528.8 248.5 L1530.3 248.2 L1531.8 248.0 L1533.3 247.7 L1534.7 247.5 L1536.2 247.2 L1537.7 247.0" stroke="#d90000" stroke-width="4.4"></path>
<path d="M1018.4 385.8 L1018.4 384.7 L1018.4 383.7 L1018.5 382.7 L1018.6 381.7 L1018.7 380.7 L1018.8 379.8 L1019.0 378.8 L1019.1 377.9 L1019.3 377.0 L1019.5 376.1 L1019.8 375.2 L1020.0 374.3 L1020.3 373.4 L1020.6 372.6 L1020.9 371.8 L1021.2 371.0 L1021.6 370.2 L1022.0 369.4 L1022.3 368.6 L1022.7 367.8 L1023.2 367.1 L1023.6 366.3 L1024.0 365.6 L1024.5 364.8 L1025.0 364.1 L1025.5 363.4 L1026.0 362.7 L1026.5 362.0 L1027.1 361.4 L1027.7 360.7 L1028.2 360.0 L1028.8 359.4 L1029.4 358.7 L1030.0 358.1 L1030.7 357.5 L1031.3 356.9 L1032.0 356.2 L1032.7 355.6 L1033.3 355.0 L1034.0 354.4 L1034.7 353.9 L1035.4 353.3 L1036.2 352.7 L1036.9 352.2 L1037.7 351.6 L1038.4 351.0 L1039.2 350.5 L1040.0 350.0 L1040.7 349.4 L1041.5 348.9 L1042.3 348.4 L1043.2 347.8 L1044.0 347.3 L1044.8 346.8 L1045.6 346.3 L1046.5 345.8 L1047.3 345.3 L1048.2 344.8 L1049.0 344.3 L1049.9 343.9 L1050.7 343.4 L1051.6 342.9 L1052.5 342.4 L1053.4 342.0 L1054.3 341.5 L1055.1 341.0 L1056.0 340.6 L1056.9 340.1 L1057.8 339.7 L1058.7 339.2 L1059.6 338.8 L1060.5 338.3 L1061.4 337.9 L1062.3 337.4 L1063.2 337.0 L1064.2 336.5 L1065.1 336.1 L1066.0 335.7 L1066.9 335.2 L1067.8 334.8 L1068.7 334.3 L1069.6 333.9 L1070.6 333.5 L1071.5 333.0 L1072.4 332.6 L1073.3 332.2 L1074.2 331.7 L1075.1 331.3 L1076.1 330.9 L1077.0 330.4 L1077.9 330.0 L1078.8 329.6 L1079.7 329.1 L1080.6 328.7 L1081.6 328.3 L1082.5 327.8 L1083.4 327.4 L1084.3 327.0 L1085.2 326.6 L1086.1 326.1 L1087.1 325.7 L1088.0 325.3 L1088.9 324.9 L1089.8 324.4 L1090.7 324.0 L1091.6 323.6 L1092.5 323.2 L1093.5 322.8 L1094.4 322.3 L1095.3 321.9 L1096.2 321.5 L1097.1 321.1 L1098.0 320.7 L1099.0 320.2 L1099.9 319.8 L1100.8 319.4 L1101.7 319.0 L1102.6 318.6 L1103.5 318.2 L1104.4 317.7 L1105.4 317.3 L1106.3 316.9 L1107.2 316.5 L1108.1 316.1 L1109.0 315.6 L1109.9 315.2 L1110.8 314.8 L1111.8 314.4 L1112.7 314.0 L1113.6 313.6 L1114.5 313.1 L1115.4 312.7 L1116.3 312.3 L1117.2 311.9 L1118.1 311.5 L1119.1 311.1 L1120.0 310.7 L1120.9 310.3 L1121.8 309.9 L1122.7 309.4 L1123.6 309.0 L1124.5 308.6 L1125.5 308.2 L1126.4 307.8 L1127.3 307.4 L1128.2 307.0 L1129.1 306.6 L1130.0 306.2 L1130.9 305.8 L1131.9 305.4 L1132.8 305.0 L1133.7 304.6 L1134.6 304.2 L1135.5 303.8 L1136.4 303.4 L1137.3 302.9 L1138.3 302.5 L1139.2 302.1 L1140.1 301.7 L1141.0 301.3 L1141.9 300.9 L1142.8 300.5 L1143.7 300.1 L1144.7 299.7 L1145.6 299.3 L1146.5 298.9 L1147.4 298.5 L1148.3 298.1 L1149.2 297.7 L1150.1 297.3 L1151.1 297.0 L1152.0 296.6 L1152.9 296.2 L1153.8 295.8 L1154.7 295.4 L1155.6 295.0 L1156.5 294.6 L1157.5 294.2 L1158.4 293.8 L1159.3 293.4 L1160.2 293.0 L1161.1 292.6 L1162.0 292.2 L1163.0 291.8 L1163.9 291.4 L1164.8 291.0 L1165.7 290.6 L1166.6 290.2 L1167.5 289.8 L1168.5 289.5 L1169.4 289.1 L1170.3 288.7 L1171.2 288.3 L1172.1 287.9 L1173.0 287.5 L1174.0 287.1 L1174.9 286.7 L1175.8 286.3 L1176.7 285.9 L1177.6 285.5 L1178.5 285.2 L1179.5 284.8 L1180.4 284.4 L1181.3 284.0 L1182.2 283.6 L1183.1 283.2 L1184.0 282.8 L1185.0 282.4 L1185.9 282.0 L1186.8 281.7 L1187.7 281.3 L1188.6 280.9 L1189.5 280.5 L1190.5 280.1 L1191.4 279.7 L1192.3 279.3 L1193.2 278.9 L1194.1 278.6 L1195.1 278.2 L1196.0 277.8 L1196.9 277.4 L1197.8 277.0 L1198.7 276.6 L1199.7 276.2 L1200.6 275.9 L1201.5 275.5 L1202.4 275.1 L1203.3 274.7 L1204.3 274.3 L1205.2 273.9 L1206.1 273.5 L1207.0 273.1 L1207.9 272.8 L1208.9 272.4 L1209.8 272.0 L1210.7 271.6 L1211.6 271.2 L1212.5 270.8 L1213.5 270.4 L1214.4 270.1 L1215.3 269.7 L1216.2 269.3 L1217.1 268.9 L1218.1 268.5 L1219.0 268.1 L1219.9 267.7 L1220.8 267.4 L1221.7 267.0 L1222.7 266.6 L1223.6 266.2 L1224.5 265.8 L1225.4 265.4 L1226.4 265.0 L1227.3 264.7 L1228.2 264.3 L1229.1 263.9 L1230.0 263.5 L1231.0 263.1 L1231.9 262.7 L1232.8 262.3 L1233.7 262.0 L1234.7 261.6 L1235.6 261.2 L1236.5 260.8 L1237.4 260.4 L1238.4 260.0 L1239.3 259.6 L1240.2 259.3 L1241.1 258.9 L1242.1 258.5 L1243.0 258.1 L1243.9 257.7 L1244.8 257.3 L1245.8 256.9 L1246.7 256.5 L1247.6 256.2 L1248.5 255.8 L1249.5 255.4 L1250.4 255.0 L1251.3 254.6 L1252.2 254.2 L1253.2 253.8 L1254.1 253.4 L1255.0 253.0 L1255.9 252.7 L1256.9 252.3 L1257.8 251.9 L1258.7 251.5 L1259.7 251.1 L1260.6 250.7 L1261.5 250.3 L1262.4 249.9 L1263.4 249.6 L1264.3 249.2 L1265.2 248.8 L1266.1 248.4 L1267.1 248.0 L1268.0 247.6 L1268.9 247.2 L1269.9 246.9 L1270.8 246.5 L1271.7 246.1 L1272.6 245.7 L1273.6 245.3 L1274.5 244.9 L1275.4 244.5 L1276.3 244.2 L1277.3 243.8 L1278.2 243.4 L1279.1 243.0 L1280.1 242.6 L1281.0 242.3 L1281.9 241.9 L1282.9 241.5 L1283.8 241.1 L1284.7 240.7 L1285.6 240.4 L1286.6 240.0 L1287.5 239.6 L1288.4 239.2 L1289.4 238.9 L1290.3 238.5 L1291.2 238.1 L1292.2 237.7 L1293.1 237.4 L1294.0 237.0 L1294.9 236.6 L1295.9 236.3 L1296.8 235.9 L1297.7 235.5 L1298.7 235.1 L1299.6 234.8 L1300.5 234.4 L1301.5 234.0 L1302.4 233.7 L1303.3 233.3 L1304.3 233.0 L1305.2 232.6 L1306.1 232.2 L1307.1 231.9 L1308.0 231.5 L1308.9 231.2 L1309.9 230.8 L1310.8 230.5 L1311.7 230.1 L1312.7 229.7 L1313.6 229.4 L1314.5 229.0 L1315.5 228.7 L1316.4 228.3 L1317.4 228.0 L1318.3 227.7 L1319.2 227.3 L1320.2 227.0 L1321.1 226.6 L1322.0 226.3 L1323.0 225.9 L1323.9 225.6 L1324.8 225.3 L1325.8 224.9 L1326.7 224.6 L1327.7 224.3 L1328.6 223.9 L1329.5 223.6 L1330.5 223.3 L1331.4 222.9 L1332.3 222.6 L1333.3 222.3 L1334.2 222.0 L1335.2 221.6 L1336.1 221.3 L1337.0 221.0 L1338.0 220.7 L1338.9 220.4 L1339.9 220.1 L1340.8 219.8 L1341.7 219.5 L1342.7 219.2 L1343.6 218.9 L1344.6 218.6 L1345.5 218.3 L1346.5 218.0 L1347.4 217.7 L1348.3 217.4 L1349.3 217.1 L1350.2 216.8 L1351.2 216.5 L1352.1 216.2 L1353.1 215.9 L1354.0 215.7 L1355.0 215.4 L1355.9 215.1 L1356.9 214.8 L1357.8 214.6 L1358.8 214.3 L1359.7 214.0 L1360.7 213.8 L1361.6 213.5 L1362.6 213.3 L1363.5 213.0 L1364.5 212.8 L1365.4 212.5 L1366.4 212.3 L1367.3 212.0 L1368.3 211.8 L1369.2 211.6 L1370.2 211.3 L1371.1 211.1 L1372.1 210.9 L1373.0 210.7 L1374.0 210.4 L1375.0 210.2 L1375.9 210.0 L1376.9 209.8 L1377.8 209.6 L1378.8 209.4 L1379.8 209.2 L1380.7 209.0 L1381.7 208.8 L1382.7 208.6 L1383.6 208.4 L1384.6 208.2 L1385.6 208.1 L1386.5 207.9 L1387.5 207.7 L1388.5 207.5 L1389.4 207.4 L1390.4 207.2 L1391.4 207.0 L1392.4 206.9 L1393.3 206.7 L1394.3 206.6 L1395.3 206.4 L1396.3 206.3 L1397.3 206.1 L1398.2 206.0 L1399.2 205.9 L1400.2 205.7 L1401.2 205.6 L1402.2 205.4 L1403.1 205.3 L1404.1 205.2 L1405.1 205.1 L1406.1 204.9 L1407.1 204.8 L1408.1 204.7 L1409.1 204.6 L1410.1 204.5 L1411.1 204.3 L1412.0 204.2 L1413.0 204.1 L1414.0 204.0 L1415.0 203.9 L1416.0 203.8 L1417.0 203.7 L1418.0 203.6 L1419.0 203.5 L1420.0 203.4 L1421.0 203.3 L1422.0 203.2 L1423.0 203.1 L1424.0 203.0 L1425.0 202.9 L1426.0 202.8 L1427.0 202.7 L1428.0 202.6 L1429.0 202.5 L1430.0 202.4 L1431.0 202.3 L1432.0 202.2 L1433.0 202.2 L1434.0 202.1 L1435.0 202.0 L1436.0 201.9 L1437.0 201.8 L1438.0 201.7 L1439.0 201.6 L1440.0 201.5 L1441.0 201.4 L1442.0 201.4 L1443.0 201.3 L1444.0 201.2 L1445.0 201.1 L1446.0 201.0 L1447.0 200.9 L1448.0 200.8 L1449.0 200.7 L1450.0 200.7 L1451.0 200.6 L1452.0 200.5 L1453.0 200.4 L1454.0 200.3 L1455.0 200.2 L1456.0 200.1 L1457.0 200.0 L1458.0 199.9 L1459.0 199.8 L1460.0 199.7 L1461.0 199.6 L1462.1 199.5 L1463.1 199.4 L1464.1 199.3 L1465.1 199.3 L1466.1 199.2 L1467.1 199.1 L1468.1 199.0 L1469.1 198.9 L1470.1 198.8 L1471.1 198.7 L1472.1 198.6 L1473.1 198.5 L1474.0 198.3 L1475.0 198.2 L1476.0 198.1 L1477.0 198.0 L1478.0 197.9 L1479.0 197.8 L1480.0 197.7 L1481.0 197.6 L1482.0 197.5 L1483.0 197.4 L1484.0 197.3 L1485.0 197.2 L1486.0 197.1 L1487.0 197.0 L1488.0 196.9 L1489.0 196.8 L1490.0 196.6 L1491.0 196.5 L1492.0 196.4 L1493.0 196.3 L1494.0 196.2 L1495.0 196.1 L1496.0 196.0 L1497.0 195.9 L1498.0 195.7 L1499.0 195.6 L1500.0 195.5 L1501.0 195.4 L1502.0 195.3 L1503.0 195.2 L1504.0 195.0 L1505.0 194.9 L1505.9 194.8 L1506.9 194.7 L1507.9 194.6 L1508.9 194.5 L1509.9 194.3 L1510.9 194.2 L1511.9 194.1 L1512.9 194.0 L1513.9 193.9 L1514.9 193.7 L1515.9 193.6 L1516.9 193.5 L1517.9 193.4 L1518.9 193.3 L1519.9 193.1 L1520.9 193.0 L1521.9 192.9 L1522.9 192.8 L1523.9 192.6 L1524.9 192.5 L1525.9 192.4 L1526.9 192.3 L1527.9 192.1 L1528.8 192.0 L1529.8 191.9 L1530.8 191.8 L1531.8 191.6 L1532.8 191.5 L1533.8 191.4 L1534.8 191.3 A3.90 3.90 0 0 0 1533.8 183.5 L1532.8 183.6 L1531.8 183.8 L1530.9 183.9 L1529.9 184.0 L1528.9 184.1 L1527.9 184.3 L1526.9 184.4 L1525.9 184.5 L1524.9 184.6 L1523.9 184.8 L1522.9 184.9 L1521.9 185.0 L1520.9 185.1 L1519.9 185.3 L1518.9 185.4 L1517.9 185.5 L1516.9 185.6 L1516.0 185.8 L1515.0 185.9 L1514.0 186.0 L1513.0 186.1 L1512.0 186.2 L1511.0 186.4 L1510.0 186.5 L1509.0 186.6 L1508.0 186.7 L1507.0 186.8 L1506.0 187.0 L1505.0 187.1 L1504.0 187.2 L1503.0 187.3 L1502.1 187.4 L1501.1 187.5 L1500.1 187.6 L1499.1 187.8 L1498.1 187.9 L1497.1 188.0 L1496.1 188.1 L1495.1 188.2 L1494.1 188.3 L1493.1 188.4 L1492.1 188.6 L1491.1 188.7 L1490.1 188.8 L1489.2 188.9 L1488.2 189.0 L1487.2 189.1 L1486.2 189.2 L1485.2 189.3 L1484.2 189.4 L1483.2 189.5 L1482.2 189.6 L1481.2 189.8 L1480.2 189.9 L1479.2 190.0 L1478.2 190.1 L1477.2 190.2 L1476.2 190.3 L1475.2 190.4 L1474.2 190.5 L1473.3 190.6 L1472.3 190.7 L1471.3 190.8 L1470.3 190.9 L1469.3 191.0 L1468.3 191.1 L1467.3 191.2 L1466.3 191.3 L1465.3 191.4 L1464.3 191.5 L1463.3 191.6 L1462.3 191.7 L1461.3 191.8 L1460.3 191.9 L1459.3 192.0 L1458.3 192.1 L1457.3 192.2 L1456.3 192.3 L1455.3 192.3 L1454.3 192.4 L1453.3 192.5 L1452.3 192.6 L1451.3 192.7 L1450.3 192.8 L1449.3 192.9 L1448.3 193.0 L1447.3 193.1 L1446.3 193.2 L1445.3 193.2 L1444.3 193.3 L1443.3 193.4 L1442.3 193.5 L1441.3 193.6 L1440.3 193.7 L1439.3 193.8 L1438.3 193.9 L1437.3 193.9 L1436.3 194.0 L1435.3 194.1 L1434.3 194.2 L1433.3 194.3 L1432.3 194.4 L1431.3 194.5 L1430.3 194.6 L1429.3 194.7 L1428.3 194.7 L1427.3 194.8 L1426.2 194.9 L1425.2 195.0 L1424.2 195.1 L1423.2 195.2 L1422.2 195.3 L1421.2 195.4 L1420.2 195.5 L1419.2 195.6 L1418.2 195.7 L1417.2 195.8 L1416.2 195.9 L1415.2 196.0 L1414.2 196.1 L1413.2 196.3 L1412.2 196.4 L1411.2 196.5 L1410.2 196.6 L1409.2 196.7 L1408.1 196.8 L1407.1 196.9 L1406.1 197.1 L1405.1 197.2 L1404.1 197.3 L1403.1 197.5 L1402.1 197.6 L1401.1 197.7 L1400.1 197.9 L1399.1 198.0 L1398.1 198.1 L1397.1 198.3 L1396.1 198.4 L1395.1 198.6 L1394.1 198.7 L1393.1 198.9 L1392.1 199.0 L1391.1 199.2 L1390.1 199.3 L1389.1 199.5 L1388.1 199.7 L1387.1 199.9 L1386.1 200.0 L1385.1 200.2 L1384.1 200.4 L1383.2 200.6 L1382.2 200.8 L1381.2 201.0 L1380.2 201.1 L1379.2 201.3 L1378.2 201.5 L1377.2 201.8 L1376.2 202.0 L1375.2 202.2 L1374.2 202.4 L1373.3 202.6 L1372.3 202.8 L1371.3 203.1 L1370.3 203.3 L1369.3 203.5 L1368.4 203.8 L1367.4 204.0 L1366.4 204.2 L1365.4 204.5 L1364.4 204.7 L1363.5 205.0 L1362.5 205.2 L1361.5 205.5 L1360.5 205.7 L1359.6 206.0 L1358.6 206.3 L1357.6 206.5 L1356.7 206.8 L1355.7 207.1 L1354.7 207.3 L1353.8 207.6 L1352.8 207.9 L1351.8 208.2 L1350.9 208.5 L1349.9 208.7 L1348.9 209.0 L1348.0 209.3 L1347.0 209.6 L1346.0 209.9 L1345.1 210.2 L1344.1 210.5 L1343.2 210.8 L1342.2 211.1 L1341.2 211.4 L1340.3 211.7 L1339.3 212.0 L1338.4 212.4 L1337.4 212.7 L1336.5 213.0 L1335.5 213.3 L1334.6 213.6 L1333.6 213.9 L1332.7 214.3 L1331.7 214.6 L1330.7 214.9 L1329.8 215.2 L1328.8 215.6 L1327.9 215.9 L1326.9 216.2 L1326.0 216.6 L1325.0 216.9 L1324.1 217.2 L1323.2 217.6 L1322.2 217.9 L1321.3 218.3 L1320.3 218.6 L1319.4 218.9 L1318.4 219.3 L1317.5 219.6 L1316.5 220.0 L1315.6 220.3 L1314.6 220.7 L1313.7 221.0 L1312.8 221.4 L1311.8 221.7 L1310.9 222.1 L1309.9 222.4 L1309.0 222.8 L1308.0 223.2 L1307.1 223.5 L1306.2 223.9 L1305.2 224.2 L1304.3 224.6 L1303.3 225.0 L1302.4 225.3 L1301.5 225.7 L1300.5 226.1 L1299.6 226.4 L1298.6 226.8 L1297.7 227.2 L1296.8 227.5 L1295.8 227.9 L1294.9 228.3 L1293.9 228.6 L1293.0 229.0 L1292.1 229.4 L1291.1 229.7 L1290.2 230.1 L1289.3 230.5 L1288.3 230.9 L1287.4 231.2 L1286.4 231.6 L1285.5 232.0 L1284.6 232.4 L1283.6 232.8 L1282.7 233.1 L1281.8 233.5 L1280.8 233.9 L1279.9 234.3 L1279.0 234.7 L1278.0 235.0 L1277.1 235.4 L1276.2 235.8 L1275.2 236.2 L1274.3 236.6 L1273.4 237.0 L1272.4 237.3 L1271.5 237.7 L1270.6 238.1 L1269.7 238.5 L1268.7 238.9 L1267.8 239.3 L1266.9 239.6 L1265.9 240.0 L1265.0 240.4 L1264.1 240.8 L1263.1 241.2 L1262.2 241.6 L1261.3 242.0 L1260.4 242.4 L1259.4 242.7 L1258.5 243.1 L1257.6 243.5 L1256.6 243.9 L1255.7 244.3 L1254.8 244.7 L1253.9 245.1 L1252.9 245.5 L1252.0 245.9 L1251.1 246.2 L1250.2 246.6 L1249.2 247.0 L1248.3 247.4 L1247.4 247.8 L1246.4 248.2 L1245.5 248.6 L1244.6 249.0 L1243.7 249.3 L1242.7 249.7 L1241.8 250.1 L1240.9 250.5 L1240.0 250.9 L1239.0 251.3 L1238.1 251.7 L1237.2 252.1 L1236.3 252.4 L1235.4 252.8 L1234.4 253.2 L1233.5 253.6 L1232.6 254.0 L1231.7 254.4 L1230.7 254.8 L1229.8 255.1 L1228.9 255.5 L1228.0 255.9 L1227.0 256.3 L1226.1 256.7 L1225.2 257.1 L1224.3 257.5 L1223.3 257.9 L1222.4 258.2 L1221.5 258.6 L1220.6 259.0 L1219.7 259.4 L1218.7 259.8 L1217.8 260.2 L1216.9 260.6 L1216.0 260.9 L1215.0 261.3 L1214.1 261.7 L1213.2 262.1 L1212.3 262.5 L1211.4 262.9 L1210.4 263.3 L1209.5 263.6 L1208.6 264.0 L1207.7 264.4 L1206.8 264.8 L1205.8 265.2 L1204.9 265.6 L1204.0 266.0 L1203.1 266.3 L1202.2 266.7 L1201.2 267.1 L1200.3 267.5 L1199.4 267.9 L1198.5 268.3 L1197.6 268.7 L1196.6 269.0 L1195.7 269.4 L1194.8 269.8 L1193.9 270.2 L1193.0 270.6 L1192.0 271.0 L1191.1 271.4 L1190.2 271.8 L1189.3 272.1 L1188.4 272.5 L1187.4 272.9 L1186.5 273.3 L1185.6 273.7 L1184.7 274.1 L1183.8 274.5 L1182.8 274.9 L1181.9 275.3 L1181.0 275.6 L1180.1 276.0 L1179.2 276.4 L1178.2 276.8 L1177.3 277.2 L1176.4 277.6 L1175.5 278.0 L1174.6 278.4 L1173.7 278.8 L1172.7 279.2 L1171.8 279.5 L1170.9 279.9 L1170.0 280.3 L1169.1 280.7 L1168.1 281.1 L1167.2 281.5 L1166.3 281.9 L1165.4 282.3 L1164.5 282.7 L1163.6 283.1 L1162.6 283.5 L1161.7 283.9 L1160.8 284.3 L1159.9 284.6 L1159.0 285.0 L1158.0 285.4 L1157.1 285.8 L1156.2 286.2 L1155.3 286.6 L1154.4 287.0 L1153.5 287.4 L1152.5 287.8 L1151.6 288.2 L1150.7 288.6 L1149.8 289.0 L1148.9 289.4 L1148.0 289.8 L1147.0 290.2 L1146.1 290.6 L1145.2 291.0 L1144.3 291.4 L1143.4 291.8 L1142.4 292.2 L1141.5 292.6 L1140.6 293.0 L1139.7 293.4 L1138.8 293.8 L1137.9 294.2 L1136.9 294.6 L1136.0 295.0 L1135.1 295.4 L1134.2 295.8 L1133.3 296.2 L1132.4 296.6 L1131.4 297.0 L1130.5 297.4 L1129.6 297.8 L1128.7 298.2 L1127.8 298.6 L1126.9 299.1 L1125.9 299.5 L1125.0 299.9 L1124.1 300.3 L1123.2 300.7 L1122.3 301.1 L1121.4 301.5 L1120.4 301.9 L1119.5 302.3 L1118.6 302.7 L1117.7 303.1 L1116.8 303.6 L1115.9 304.0 L1114.9 304.4 L1114.0 304.8 L1113.1 305.2 L1112.2 305.6 L1111.3 306.0 L1110.4 306.5 L1109.4 306.9 L1108.5 307.3 L1107.6 307.7 L1106.7 308.1 L1105.8 308.5 L1104.9 309.0 L1103.9 309.4 L1103.0 309.8 L1102.1 310.2 L1101.2 310.6 L1100.3 311.1 L1099.4 311.5 L1098.4 311.9 L1097.5 312.3 L1096.6 312.8 L1095.7 313.2 L1094.8 313.6 L1093.9 314.1 L1093.0 314.5 L1092.0 314.9 L1091.1 315.4 L1090.2 315.8 L1089.3 316.2 L1088.4 316.7 L1087.5 317.1 L1086.6 317.5 L1085.6 318.0 L1084.7 318.4 L1083.8 318.8 L1082.9 319.3 L1082.0 319.7 L1081.1 320.2 L1080.2 320.6 L1079.2 321.0 L1078.3 321.5 L1077.4 321.9 L1076.5 322.4 L1075.6 322.8 L1074.7 323.3 L1073.8 323.7 L1072.8 324.2 L1071.9 324.6 L1071.0 325.1 L1070.1 325.5 L1069.2 326.0 L1068.3 326.4 L1067.4 326.9 L1066.4 327.3 L1065.5 327.8 L1064.6 328.2 L1063.7 328.7 L1062.8 329.1 L1061.9 329.6 L1060.9 330.0 L1060.0 330.5 L1059.1 331.0 L1058.2 331.4 L1057.3 331.9 L1056.4 332.4 L1055.5 332.8 L1054.5 333.3 L1053.6 333.8 L1052.7 334.3 L1051.8 334.7 L1050.9 335.2 L1050.0 335.7 L1049.1 336.2 L1048.2 336.7 L1047.3 337.2 L1046.4 337.7 L1045.5 338.2 L1044.7 338.7 L1043.8 339.3 L1042.9 339.8 L1042.0 340.3 L1041.1 340.9 L1040.3 341.4 L1039.4 341.9 L1038.5 342.5 L1037.7 343.0 L1036.8 343.6 L1036.0 344.2 L1035.2 344.8 L1034.3 345.4 L1033.5 346.0 L1032.7 346.6 L1031.9 347.2 L1031.1 347.8 L1030.3 348.4 L1029.5 349.1 L1028.8 349.7 L1028.0 350.4 L1027.2 351.1 L1026.5 351.8 L1025.8 352.5 L1025.1 353.2 L1024.4 353.9 L1023.7 354.6 L1023.0 355.4 L1022.3 356.1 L1021.7 356.9 L1021.1 357.7 L1020.4 358.5 L1019.8 359.3 L1019.2 360.1 L1018.7 361.0 L1018.1 361.8 L1017.6 362.7 L1017.1 363.6 L1016.6 364.5 L1016.1 365.4 L1015.6 366.3 L1015.2 367.3 L1014.8 368.3 L1014.4 369.2 L1014.0 370.2 L1013.7 371.2 L1013.3 372.3 L1013.0 373.3 L1012.8 374.4 L1012.5 375.4 L1012.3 376.5 L1012.1 377.6 L1011.9 378.7 L1011.7 379.9 L1011.6 381.0 L1011.5 382.2 L1011.5 383.4 L1011.4 384.6 L1011.4 385.8 A3.50 3.50 0 0 0 1018.4 385.8 Z" fill="#4472c4" stroke="none"></path>
</g>
<circle cx="677.4" cy="37.3" r="3.6" fill="#4472c4"></circle>
<line x1="648.5" y1="160.8" x2="706.7" y2="160.8" stroke="#d90000" stroke-width="4.4" stroke-linecap="round"></line>
<line x1="648.3" y1="284.1" x2="678.6999999999999" y2="284.1" stroke="#5fa850" stroke-width="4.4" stroke-linecap="round"></line>
<circle cx="696.8" cy="284.1" r="2.2" fill="#5fa850"></circle>
<circle cx="1595.4" cy="37.3" r="3.6" fill="#4472c4"></circle>
<line x1="1566.5" y1="161.2" x2="1624.7" y2="161.2" stroke="#d90000" stroke-width="4.4" stroke-linecap="round"></line>
<line x1="1566.0" y1="284.8" x2="1597.6" y2="284.8" stroke="#5fa850" stroke-width="4.4" stroke-linecap="round"></line>
<circle cx="1615.4" cy="284.8" r="2.2" fill="#5fa850"></circle>
<g font-family="Carlito, 'Liberation Sans', sans-serif" fill="#000">
<text transform="translate(80.6 391.9) scale(1 1.02)" font-size="21.0" text-anchor="end" textLength="10.64" lengthAdjust="spacingAndGlyphs">0</text>
<text transform="translate(80.6 338.2) scale(1 1.02)" font-size="21.0" text-anchor="end" textLength="47.86" lengthAdjust="spacingAndGlyphs">0.005</text>
<text transform="translate(80.6 284.8) scale(1 1.02)" font-size="21.0" text-anchor="end" textLength="37.22" lengthAdjust="spacingAndGlyphs">0.01</text>
<text transform="translate(80.6 231.4) scale(1 1.02)" font-size="21.0" text-anchor="end" textLength="47.86" lengthAdjust="spacingAndGlyphs">0.015</text>
<text transform="translate(80.6 177.9) scale(1 1.02)" font-size="21.0" text-anchor="end" textLength="37.22" lengthAdjust="spacingAndGlyphs">0.02</text>
<text transform="translate(80.6 124.2) scale(1 1.02)" font-size="21.0" text-anchor="end" textLength="47.86" lengthAdjust="spacingAndGlyphs">0.025</text>
<text transform="translate(80.6 70.4) scale(1 1.02)" font-size="21.0" text-anchor="end" textLength="37.22" lengthAdjust="spacingAndGlyphs">0.03</text>
<text transform="translate(80.6 16.8) scale(1 1.02)" font-size="21.0" text-anchor="end" textLength="47.86" lengthAdjust="spacingAndGlyphs">0.035</text>
<text transform="translate(996.4 392.6) scale(1 1.02)" font-size="21.0" text-anchor="end" textLength="10.64" lengthAdjust="spacingAndGlyphs">0</text>
<text transform="translate(996.4 329.8) scale(1 1.02)" font-size="21.0" text-anchor="end" textLength="37.22" lengthAdjust="spacingAndGlyphs">0.01</text>
<text transform="translate(996.4 267.6) scale(1 1.02)" font-size="21.0" text-anchor="end" textLength="37.22" lengthAdjust="spacingAndGlyphs">0.02</text>
<text transform="translate(996.4 205.1) scale(1 1.02)" font-size="21.0" text-anchor="end" textLength="37.22" lengthAdjust="spacingAndGlyphs">0.03</text>
<text transform="translate(996.4 142.3) scale(1 1.02)" font-size="21.0" text-anchor="end" textLength="37.22" lengthAdjust="spacingAndGlyphs">0.04</text>
<text transform="translate(996.4 79.6) scale(1 1.02)" font-size="21.0" text-anchor="end" textLength="37.22" lengthAdjust="spacingAndGlyphs">0.05</text>
<text transform="translate(996.4 16.7) scale(1 1.02)" font-size="21.0" text-anchor="end" textLength="37.22" lengthAdjust="spacingAndGlyphs">0.06</text>
<text transform="translate(100.5 418.4) scale(1 1.02)" font-size="21.0" text-anchor="middle" textLength="10.64" lengthAdjust="spacingAndGlyphs">0</text>
<text transform="translate(186.5 418.4) scale(1 1.02)" font-size="21.0" text-anchor="middle" textLength="10.64" lengthAdjust="spacingAndGlyphs">4</text>
<text transform="translate(273.5 418.4) scale(1 1.02)" font-size="21.0" text-anchor="middle" textLength="10.64" lengthAdjust="spacingAndGlyphs">8</text>
<text transform="translate(360.8 418.4) scale(1 1.02)" font-size="21.0" text-anchor="middle" textLength="21.29" lengthAdjust="spacingAndGlyphs">12</text>
<text transform="translate(447.3 418.4) scale(1 1.02)" font-size="21.0" text-anchor="middle" textLength="21.29" lengthAdjust="spacingAndGlyphs">16</text>
<text transform="translate(534.5 418.4) scale(1 1.02)" font-size="21.0" text-anchor="middle" textLength="21.29" lengthAdjust="spacingAndGlyphs">20</text>
<text transform="translate(621.3 418.4) scale(1 1.02)" font-size="21.0" text-anchor="middle" textLength="21.29" lengthAdjust="spacingAndGlyphs">24</text>
<text transform="translate(1016.5 419.4) scale(1 1.02)" font-size="21.0" text-anchor="middle" textLength="10.64" lengthAdjust="spacingAndGlyphs">0</text>
<text transform="translate(1104.0 419.4) scale(1 1.02)" font-size="21.0" text-anchor="middle" textLength="10.64" lengthAdjust="spacingAndGlyphs">4</text>
<text transform="translate(1190.2 419.4) scale(1 1.02)" font-size="21.0" text-anchor="middle" textLength="10.64" lengthAdjust="spacingAndGlyphs">8</text>
<text transform="translate(1277.6 419.4) scale(1 1.02)" font-size="21.0" text-anchor="middle" textLength="21.29" lengthAdjust="spacingAndGlyphs">12</text>
<text transform="translate(1365.5 419.4) scale(1 1.02)" font-size="21.0" text-anchor="middle" textLength="21.29" lengthAdjust="spacingAndGlyphs">16</text>
<text transform="translate(1451.9 419.4) scale(1 1.02)" font-size="21.0" text-anchor="middle" textLength="21.29" lengthAdjust="spacingAndGlyphs">20</text>
<text transform="translate(1538.8 419.4) scale(1 1.02)" font-size="21.0" text-anchor="middle" textLength="21.29" lengthAdjust="spacingAndGlyphs">24</text>
<text x="359.6" y="454.8" font-size="23.6" text-anchor="middle" textLength="75.95" lengthAdjust="spacingAndGlyphs">time (h)</text>
<text x="1276.8" y="455.0" font-size="23.6" text-anchor="middle" textLength="75.95" lengthAdjust="spacingAndGlyphs">time (h)</text>
<text transform="translate(19.5 198.8) rotate(-90)" font-size="23.6" text-anchor="middle" textLength="223.08" lengthAdjust="spacingAndGlyphs">CO<tspan font-size="15.5" dy="4.6">2</tspan><tspan dy="-4.6"> consumption (mol)</tspan></text>
<text transform="translate(945.6 197.8) rotate(-90)" font-size="23.6" text-anchor="middle" textLength="223.08" lengthAdjust="spacingAndGlyphs">CO<tspan font-size="15.5" dy="4.6">2</tspan><tspan dy="-4.6"> consumption (mol)</tspan></text>
<text x="713.6" y="44.5" font-size="23.6" text-anchor="start" textLength="87.69" lengthAdjust="spacingAndGlyphs">exp. data</text>
<text x="713.6" y="167.7" font-size="23.6" text-anchor="start" textLength="89.05" lengthAdjust="spacingAndGlyphs">kref from</text>
<text x="713.6" y="196.6" font-size="23.6" text-anchor="start" textLength="112.97" lengthAdjust="spacingAndGlyphs">Oelkers and</text>
<text x="713.6" y="224.6" font-size="23.6" text-anchor="start" textLength="128.61" lengthAdjust="spacingAndGlyphs">Schott (2001)</text>
<text x="713.6" y="291.8" font-size="23.6" text-anchor="start" textLength="140.05" lengthAdjust="spacingAndGlyphs">kref multiplied</text>
<text x="713.6" y="319.1" font-size="23.6" text-anchor="start" textLength="118.59" lengthAdjust="spacingAndGlyphs">by a factor 5</text>
<text x="1631.6" y="44.5" font-size="23.6" text-anchor="start" textLength="87.69" lengthAdjust="spacingAndGlyphs">exp. data</text>
<text x="1631.6" y="167.7" font-size="23.6" text-anchor="start" textLength="89.05" lengthAdjust="spacingAndGlyphs">kref from</text>
<text x="1631.6" y="196.6" font-size="23.6" text-anchor="start" textLength="112.97" lengthAdjust="spacingAndGlyphs">Oelkers and</text>
<text x="1631.6" y="224.6" font-size="23.6" text-anchor="start" textLength="128.61" lengthAdjust="spacingAndGlyphs">Schott (2001)</text>
<text x="1631.6" y="291.8" font-size="23.6" text-anchor="start" textLength="140.05" lengthAdjust="spacingAndGlyphs">kref multiplied</text>
<text x="1631.6" y="319.1" font-size="23.6" text-anchor="start" textLength="118.59" lengthAdjust="spacingAndGlyphs">by a factor 5</text>
</g>
<g font-family="'Liberation Sans', Arial, sans-serif" font-weight="bold" font-size="38.5" fill="#000">
<text x="1.6" y="28.8" textLength="27.81" lengthAdjust="spacingAndGlyphs">A</text>
<text x="922.9" y="28.8" textLength="27.81" lengthAdjust="spacingAndGlyphs">B</text>
</g>
</svg>

</body></html>
